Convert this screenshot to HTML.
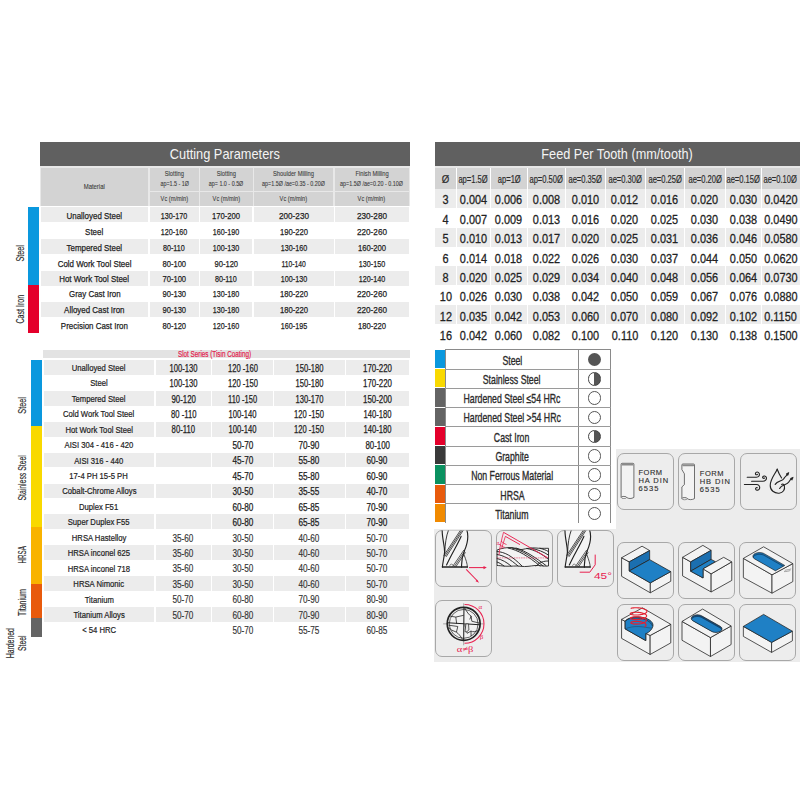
<!DOCTYPE html>
<html><head><meta charset="utf-8"><style>
html,body{margin:0;padding:0;background:#fff;width:800px;height:800px;overflow:hidden;}
body{position:relative;font-family:"Liberation Sans",sans-serif;color:#2b2b2b;}
.a{position:absolute;}
.c{display:flex;align-items:center;justify-content:center;white-space:nowrap;line-height:1;}
.c span{display:inline-block;transform-origin:50% 50%;}
.v{display:flex;align-items:center;justify-content:center;white-space:nowrap;transform:rotate(-90deg);color:#2b2b2b;text-align:center;line-height:1;}
.v span{display:inline-block;}
.ft{font-size:7.5px;line-height:8px;color:#2e2e2e;white-space:nowrap;transform-origin:0 0;-webkit-text-stroke:0.12px #2e2e2e;}
</style></head><body>
<div class="a" style="left:40px;top:142px;width:370px;height:24px;background:#606060;"></div>
<div class="a c" style="left:40px;top:142px;width:370px;height:24px;font-size:14.6px;color:#f4f4f4;font-weight:normal;"><span style="transform:translateY(-0.5px) scaleX(0.875)">Cutting Parameters</span></div>
<div class="a" style="left:40px;top:166px;width:370px;height:40px;background:#e8e8e8;"></div>
<div class="a" style="left:41px;top:168px;width:107px;height:38px;background:#d3d3d3;"></div>
<div class="a" style="left:149.8px;top:168px;width:49.0px;height:22.5px;background:#d3d3d3;"></div>
<div class="a" style="left:149.8px;top:192px;width:49.0px;height:14px;background:#d3d3d3;"></div>
<div class="a" style="left:200.2px;top:168px;width:52.60000000000002px;height:22.5px;background:#d3d3d3;"></div>
<div class="a" style="left:200.2px;top:192px;width:52.60000000000002px;height:14px;background:#d3d3d3;"></div>
<div class="a" style="left:254.2px;top:168px;width:79.0px;height:22.5px;background:#d3d3d3;"></div>
<div class="a" style="left:254.2px;top:192px;width:79.0px;height:14px;background:#d3d3d3;"></div>
<div class="a" style="left:334.6px;top:168px;width:74.39999999999998px;height:22.5px;background:#d3d3d3;"></div>
<div class="a" style="left:334.6px;top:192px;width:74.39999999999998px;height:14px;background:#d3d3d3;"></div>
<div class="a c" style="left:41px;top:168px;width:107px;height:38px;font-size:8px;color:#3a3a3a;font-weight:normal;-webkit-text-stroke:0.1px #3a3a3a;"><span style="transform:translateY(0px) scaleX(0.74)">Material</span></div>
<div class="a c" style="left:149.8px;top:169.5px;width:49.0px;height:9px;font-size:8px;color:#3a3a3a;font-weight:normal;-webkit-text-stroke:0.1px #3a3a3a;"><span style="transform:translateY(0px) scaleX(0.72)">Slotting</span></div>
<div class="a c" style="left:149.8px;top:179.3px;width:49.0px;height:9px;font-size:7.8px;color:#3a3a3a;font-weight:normal;-webkit-text-stroke:0.1px #3a3a3a;"><span style="transform:translateY(0px) scaleX(0.69)">ap=1.5 - 1Ø</span></div>
<div class="a c" style="left:149.8px;top:192px;width:49.0px;height:14px;font-size:8px;color:#3a3a3a;font-weight:normal;-webkit-text-stroke:0.1px #3a3a3a;"><span style="transform:translateY(0px) scaleX(0.71)">Vc (m/min)</span></div>
<div class="a c" style="left:200.2px;top:169.5px;width:52.60000000000002px;height:9px;font-size:8px;color:#3a3a3a;font-weight:normal;-webkit-text-stroke:0.1px #3a3a3a;"><span style="transform:translateY(0px) scaleX(0.72)">Slotting</span></div>
<div class="a c" style="left:200.2px;top:179.3px;width:52.60000000000002px;height:9px;font-size:7.8px;color:#3a3a3a;font-weight:normal;-webkit-text-stroke:0.1px #3a3a3a;"><span style="transform:translateY(0px) scaleX(0.69)">ap= 1.0 - 0.5Ø</span></div>
<div class="a c" style="left:200.2px;top:192px;width:52.60000000000002px;height:14px;font-size:8px;color:#3a3a3a;font-weight:normal;-webkit-text-stroke:0.1px #3a3a3a;"><span style="transform:translateY(0px) scaleX(0.71)">Vc (m/min)</span></div>
<div class="a c" style="left:254.2px;top:169.5px;width:79.0px;height:9px;font-size:8px;color:#3a3a3a;font-weight:normal;-webkit-text-stroke:0.1px #3a3a3a;"><span style="transform:translateY(0px) scaleX(0.72)">Shoulder Milling</span></div>
<div class="a c" style="left:254.2px;top:179.3px;width:79.0px;height:9px;font-size:7.8px;color:#3a3a3a;font-weight:normal;-webkit-text-stroke:0.1px #3a3a3a;"><span style="transform:translateY(0px) scaleX(0.69)">ap=1.5Ø /ae=0.35 - 0.20Ø</span></div>
<div class="a c" style="left:254.2px;top:192px;width:79.0px;height:14px;font-size:8px;color:#3a3a3a;font-weight:normal;-webkit-text-stroke:0.1px #3a3a3a;"><span style="transform:translateY(0px) scaleX(0.71)">Vc (m/min)</span></div>
<div class="a c" style="left:334.6px;top:169.5px;width:74.39999999999998px;height:9px;font-size:8px;color:#3a3a3a;font-weight:normal;-webkit-text-stroke:0.1px #3a3a3a;"><span style="transform:translateY(0px) scaleX(0.72)">Finish Milling</span></div>
<div class="a c" style="left:334.6px;top:179.3px;width:74.39999999999998px;height:9px;font-size:7.8px;color:#3a3a3a;font-weight:normal;-webkit-text-stroke:0.1px #3a3a3a;"><span style="transform:translateY(0px) scaleX(0.69)">ap=1.5Ø /ae=0.20 - 0.10Ø</span></div>
<div class="a c" style="left:334.6px;top:192px;width:74.39999999999998px;height:14px;font-size:8px;color:#3a3a3a;font-weight:normal;-webkit-text-stroke:0.1px #3a3a3a;"><span style="transform:translateY(0px) scaleX(0.71)">Vc (m/min)</span></div>
<div class="a" style="left:41px;top:207.3px;width:107px;height:15.05px;background:#ececec;"></div>
<div class="a" style="left:149.5px;top:207.3px;width:49.099999999999994px;height:15.05px;background:#ececec;"></div>
<div class="a" style="left:199.8px;top:207.3px;width:52.69999999999999px;height:15.05px;background:#ececec;"></div>
<div class="a" style="left:253.5px;top:207.3px;width:80.0px;height:15.05px;background:#ececec;"></div>
<div class="a" style="left:334.5px;top:207.3px;width:74.5px;height:15.05px;background:#ececec;"></div>
<div class="a c" style="left:41px;top:207.3px;width:107px;height:15.8px;font-size:9.8px;color:#222;font-weight:normal;-webkit-text-stroke:0.25px #222;"><span style="transform:translateY(0.9px) scaleX(0.81)">Unalloyed Steel</span></div>
<div class="a c" style="left:149.5px;top:207.3px;width:49.099999999999994px;height:15.8px;font-size:9.8px;color:#222;font-weight:normal;-webkit-text-stroke:0.25px #222;"><span style="transform:translateY(0.9px) scaleX(0.731339587144204)">130-170</span></div>
<div class="a c" style="left:199.8px;top:207.3px;width:52.69999999999999px;height:15.8px;font-size:9.8px;color:#222;font-weight:normal;-webkit-text-stroke:0.25px #222;"><span style="transform:translateY(0.9px) scaleX(0.7827836265440814)">170-200</span></div>
<div class="a c" style="left:253.5px;top:207.3px;width:80.0px;height:15.8px;font-size:9.8px;color:#222;font-weight:normal;-webkit-text-stroke:0.25px #222;"><span style="transform:translateY(0.9px) scaleX(0.8342276659439589)">200-230</span></div>
<div class="a c" style="left:334.5px;top:207.3px;width:74.5px;height:15.8px;font-size:9.8px;color:#222;font-weight:normal;-webkit-text-stroke:0.25px #222;"><span style="transform:translateY(0.9px) scaleX(0.8342276659439589)">230-280</span></div>
<div class="a c" style="left:41px;top:223.10000000000002px;width:107px;height:15.8px;font-size:9.8px;color:#222;font-weight:normal;-webkit-text-stroke:0.25px #222;"><span style="transform:translateY(0.77px) scaleX(0.81)">Steel</span></div>
<div class="a c" style="left:149.5px;top:223.10000000000002px;width:49.099999999999994px;height:15.8px;font-size:9.8px;color:#222;font-weight:normal;-webkit-text-stroke:0.25px #222;"><span style="transform:translateY(0.77px) scaleX(0.731339587144204)">120-160</span></div>
<div class="a c" style="left:199.8px;top:223.10000000000002px;width:52.69999999999999px;height:15.8px;font-size:9.8px;color:#222;font-weight:normal;-webkit-text-stroke:0.25px #222;"><span style="transform:translateY(0.77px) scaleX(0.731339587144204)">160-190</span></div>
<div class="a c" style="left:253.5px;top:223.10000000000002px;width:80.0px;height:15.8px;font-size:9.8px;color:#222;font-weight:normal;-webkit-text-stroke:0.25px #222;"><span style="transform:translateY(0.77px) scaleX(0.7827836265440814)">190-220</span></div>
<div class="a c" style="left:334.5px;top:223.10000000000002px;width:74.5px;height:15.8px;font-size:9.8px;color:#222;font-weight:normal;-webkit-text-stroke:0.25px #222;"><span style="transform:translateY(0.77px) scaleX(0.8342276659439589)">220-260</span></div>
<div class="a" style="left:41px;top:238.9px;width:107px;height:15.05px;background:#ececec;"></div>
<div class="a" style="left:149.5px;top:238.9px;width:49.099999999999994px;height:15.05px;background:#ececec;"></div>
<div class="a" style="left:199.8px;top:238.9px;width:52.69999999999999px;height:15.05px;background:#ececec;"></div>
<div class="a" style="left:253.5px;top:238.9px;width:80.0px;height:15.05px;background:#ececec;"></div>
<div class="a" style="left:334.5px;top:238.9px;width:74.5px;height:15.05px;background:#ececec;"></div>
<div class="a c" style="left:41px;top:238.9px;width:107px;height:15.8px;font-size:9.8px;color:#222;font-weight:normal;-webkit-text-stroke:0.25px #222;"><span style="transform:translateY(0.64px) scaleX(0.81)">Tempered Steel</span></div>
<div class="a c" style="left:149.5px;top:238.9px;width:49.099999999999994px;height:15.8px;font-size:9.8px;color:#222;font-weight:normal;-webkit-text-stroke:0.25px #222;"><span style="transform:translateY(0.64px) scaleX(0.7319281627616858)">80-110</span></div>
<div class="a c" style="left:199.8px;top:238.9px;width:52.69999999999999px;height:15.8px;font-size:9.8px;color:#222;font-weight:normal;-webkit-text-stroke:0.25px #222;"><span style="transform:translateY(0.64px) scaleX(0.731339587144204)">100-130</span></div>
<div class="a c" style="left:253.5px;top:238.9px;width:80.0px;height:15.8px;font-size:9.8px;color:#222;font-weight:normal;-webkit-text-stroke:0.25px #222;"><span style="transform:translateY(0.64px) scaleX(0.731339587144204)">130-160</span></div>
<div class="a c" style="left:334.5px;top:238.9px;width:74.5px;height:15.8px;font-size:9.8px;color:#222;font-weight:normal;-webkit-text-stroke:0.25px #222;"><span style="transform:translateY(0.64px) scaleX(0.7827836265440814)">160-200</span></div>
<div class="a c" style="left:41px;top:254.70000000000002px;width:107px;height:15.8px;font-size:9.8px;color:#222;font-weight:normal;-webkit-text-stroke:0.25px #222;"><span style="transform:translateY(0.51px) scaleX(0.81)">Cold Work Tool Steel</span></div>
<div class="a c" style="left:149.5px;top:254.70000000000002px;width:49.099999999999994px;height:15.8px;font-size:9.8px;color:#222;font-weight:normal;-webkit-text-stroke:0.25px #222;"><span style="transform:translateY(0.51px) scaleX(0.775112815376075)">80-100</span></div>
<div class="a c" style="left:199.8px;top:254.70000000000002px;width:52.69999999999999px;height:15.8px;font-size:9.8px;color:#222;font-weight:normal;-webkit-text-stroke:0.25px #222;"><span style="transform:translateY(0.51px) scaleX(0.775112815376075)">90-120</span></div>
<div class="a c" style="left:253.5px;top:254.70000000000002px;width:80.0px;height:15.8px;font-size:9.8px;color:#222;font-weight:normal;-webkit-text-stroke:0.25px #222;"><span style="transform:translateY(0.51px) scaleX(0.6939307665699916)">110-140</span></div>
<div class="a c" style="left:334.5px;top:254.70000000000002px;width:74.5px;height:15.8px;font-size:9.8px;color:#222;font-weight:normal;-webkit-text-stroke:0.25px #222;"><span style="transform:translateY(0.51px) scaleX(0.731339587144204)">130-150</span></div>
<div class="a" style="left:41px;top:270.5px;width:107px;height:15.05px;background:#ececec;"></div>
<div class="a" style="left:149.5px;top:270.5px;width:49.099999999999994px;height:15.05px;background:#ececec;"></div>
<div class="a" style="left:199.8px;top:270.5px;width:52.69999999999999px;height:15.05px;background:#ececec;"></div>
<div class="a" style="left:253.5px;top:270.5px;width:80.0px;height:15.05px;background:#ececec;"></div>
<div class="a" style="left:334.5px;top:270.5px;width:74.5px;height:15.05px;background:#ececec;"></div>
<div class="a c" style="left:41px;top:270.5px;width:107px;height:15.8px;font-size:9.8px;color:#222;font-weight:normal;-webkit-text-stroke:0.25px #222;"><span style="transform:translateY(0.38px) scaleX(0.81)">Hot Work Tool Steel</span></div>
<div class="a c" style="left:149.5px;top:270.5px;width:49.099999999999994px;height:15.8px;font-size:9.8px;color:#222;font-weight:normal;-webkit-text-stroke:0.25px #222;"><span style="transform:translateY(0.38px) scaleX(0.775112815376075)">70-100</span></div>
<div class="a c" style="left:199.8px;top:270.5px;width:52.69999999999999px;height:15.8px;font-size:9.8px;color:#222;font-weight:normal;-webkit-text-stroke:0.25px #222;"><span style="transform:translateY(0.38px) scaleX(0.7319281627616858)">80-110</span></div>
<div class="a c" style="left:253.5px;top:270.5px;width:80.0px;height:15.8px;font-size:9.8px;color:#222;font-weight:normal;-webkit-text-stroke:0.25px #222;"><span style="transform:translateY(0.38px) scaleX(0.731339587144204)">100-130</span></div>
<div class="a c" style="left:334.5px;top:270.5px;width:74.5px;height:15.8px;font-size:9.8px;color:#222;font-weight:normal;-webkit-text-stroke:0.25px #222;"><span style="transform:translateY(0.38px) scaleX(0.731339587144204)">120-140</span></div>
<div class="a c" style="left:41px;top:286.3px;width:107px;height:15.8px;font-size:9.8px;color:#222;font-weight:normal;-webkit-text-stroke:0.25px #222;"><span style="transform:translateY(0.25px) scaleX(0.81)">Gray Cast Iron</span></div>
<div class="a c" style="left:149.5px;top:286.3px;width:49.099999999999994px;height:15.8px;font-size:9.8px;color:#222;font-weight:normal;-webkit-text-stroke:0.25px #222;"><span style="transform:translateY(0.25px) scaleX(0.775112815376075)">90-130</span></div>
<div class="a c" style="left:199.8px;top:286.3px;width:52.69999999999999px;height:15.8px;font-size:9.8px;color:#222;font-weight:normal;-webkit-text-stroke:0.25px #222;"><span style="transform:translateY(0.25px) scaleX(0.731339587144204)">130-180</span></div>
<div class="a c" style="left:253.5px;top:286.3px;width:80.0px;height:15.8px;font-size:9.8px;color:#222;font-weight:normal;-webkit-text-stroke:0.25px #222;"><span style="transform:translateY(0.25px) scaleX(0.7827836265440814)">180-220</span></div>
<div class="a c" style="left:334.5px;top:286.3px;width:74.5px;height:15.8px;font-size:9.8px;color:#222;font-weight:normal;-webkit-text-stroke:0.25px #222;"><span style="transform:translateY(0.25px) scaleX(0.8342276659439589)">220-260</span></div>
<div class="a" style="left:41px;top:302.1px;width:107px;height:15.05px;background:#ececec;"></div>
<div class="a" style="left:149.5px;top:302.1px;width:49.099999999999994px;height:15.05px;background:#ececec;"></div>
<div class="a" style="left:199.8px;top:302.1px;width:52.69999999999999px;height:15.05px;background:#ececec;"></div>
<div class="a" style="left:253.5px;top:302.1px;width:80.0px;height:15.05px;background:#ececec;"></div>
<div class="a" style="left:334.5px;top:302.1px;width:74.5px;height:15.05px;background:#ececec;"></div>
<div class="a c" style="left:41px;top:302.1px;width:107px;height:15.8px;font-size:9.8px;color:#222;font-weight:normal;-webkit-text-stroke:0.25px #222;"><span style="transform:translateY(0.12px) scaleX(0.81)">Alloyed Cast Iron</span></div>
<div class="a c" style="left:149.5px;top:302.1px;width:49.099999999999994px;height:15.8px;font-size:9.8px;color:#222;font-weight:normal;-webkit-text-stroke:0.25px #222;"><span style="transform:translateY(0.12px) scaleX(0.775112815376075)">90-130</span></div>
<div class="a c" style="left:199.8px;top:302.1px;width:52.69999999999999px;height:15.8px;font-size:9.8px;color:#222;font-weight:normal;-webkit-text-stroke:0.25px #222;"><span style="transform:translateY(0.12px) scaleX(0.731339587144204)">130-180</span></div>
<div class="a c" style="left:253.5px;top:302.1px;width:80.0px;height:15.8px;font-size:9.8px;color:#222;font-weight:normal;-webkit-text-stroke:0.25px #222;"><span style="transform:translateY(0.12px) scaleX(0.7827836265440814)">180-220</span></div>
<div class="a c" style="left:334.5px;top:302.1px;width:74.5px;height:15.8px;font-size:9.8px;color:#222;font-weight:normal;-webkit-text-stroke:0.25px #222;"><span style="transform:translateY(0.12px) scaleX(0.8342276659439589)">220-260</span></div>
<div class="a c" style="left:41px;top:317.90000000000003px;width:107px;height:15.8px;font-size:9.8px;color:#222;font-weight:normal;-webkit-text-stroke:0.25px #222;"><span style="transform:translateY(-0.010000000000000009px) scaleX(0.81)">Precision Cast Iron</span></div>
<div class="a c" style="left:149.5px;top:317.90000000000003px;width:49.099999999999994px;height:15.8px;font-size:9.8px;color:#222;font-weight:normal;-webkit-text-stroke:0.25px #222;"><span style="transform:translateY(-0.010000000000000009px) scaleX(0.775112815376075)">80-120</span></div>
<div class="a c" style="left:199.8px;top:317.90000000000003px;width:52.69999999999999px;height:15.8px;font-size:9.8px;color:#222;font-weight:normal;-webkit-text-stroke:0.25px #222;"><span style="transform:translateY(-0.010000000000000009px) scaleX(0.731339587144204)">120-160</span></div>
<div class="a c" style="left:253.5px;top:317.90000000000003px;width:80.0px;height:15.8px;font-size:9.8px;color:#222;font-weight:normal;-webkit-text-stroke:0.25px #222;"><span style="transform:translateY(-0.010000000000000009px) scaleX(0.731339587144204)">160-195</span></div>
<div class="a c" style="left:334.5px;top:317.90000000000003px;width:74.5px;height:15.8px;font-size:9.8px;color:#222;font-weight:normal;-webkit-text-stroke:0.25px #222;"><span style="transform:translateY(-0.010000000000000009px) scaleX(0.7827836265440814)">180-220</span></div>
<div class="a" style="left:28px;top:207px;width:11px;height:78px;background:#0a98de;"></div>
<div class="a" style="left:28px;top:285px;width:11px;height:48px;background:#e4002b;"></div>
<div class="a v" style="left:-9.3px;top:246.56px;width:60px;height:12.48px;font-size:10.4px;-webkit-text-stroke:0.15px #2b2b2b;"><span style="transform:scaleX(0.695)">Steel</span></div>
<div class="a v" style="left:-9.3px;top:303.36px;width:60px;height:12.48px;font-size:10.4px;-webkit-text-stroke:0.15px #2b2b2b;"><span style="transform:scaleX(0.685)">Cast Iron</span></div>
<div class="a" style="left:42.5px;top:350px;width:367px;height:8.2px;background:#e3e3e3;"></div>
<div class="a" style="left:178px;top:348.8px;font-size:8.3px;line-height:10px;color:#e2204c;white-space:nowrap;transform:scaleX(0.76);transform-origin:0 0;-webkit-text-stroke:0.2px #e2204c">Slot Series (Tisin Coating)</div>
<div class="a" style="left:44px;top:360.0px;width:110px;height:14.84px;background:#ececec;"></div>
<div class="a" style="left:155.5px;top:360.0px;width:55.5px;height:14.84px;background:#ececec;"></div>
<div class="a" style="left:212px;top:360.0px;width:61px;height:14.84px;background:#ececec;"></div>
<div class="a" style="left:274px;top:360.0px;width:70.5px;height:14.84px;background:#ececec;"></div>
<div class="a" style="left:345.5px;top:360.0px;width:63.5px;height:14.84px;background:#ececec;"></div>
<div class="a c" style="left:44px;top:360.0px;width:110px;height:15.44px;font-size:9.6px;color:#222;font-weight:normal;-webkit-text-stroke:0.22px #222;"><span style="transform:translateY(0.0px) scaleX(0.8)">Unalloyed Steel</span></div>
<div class="a c" style="left:155.5px;top:360.0px;width:55.5px;height:15.44px;font-size:10.1px;color:#222;font-weight:normal;-webkit-text-stroke:0.25px #222;"><span style="transform:translateY(0.5px) scaleX(0.7554853846040341)">100-130</span></div>
<div class="a c" style="left:212px;top:360.0px;width:61px;height:15.44px;font-size:10.1px;color:#222;font-weight:normal;-webkit-text-stroke:0.25px #222;"><span style="transform:translateY(0.5px) scaleX(0.7524799505244433)">120 -160</span></div>
<div class="a c" style="left:274px;top:360.0px;width:70.5px;height:15.44px;font-size:10.1px;color:#222;font-weight:normal;-webkit-text-stroke:0.25px #222;"><span style="transform:translateY(0.5px) scaleX(0.7554853846040341)">150-180</span></div>
<div class="a c" style="left:345.5px;top:360.0px;width:63.5px;height:15.44px;font-size:10.1px;color:#222;font-weight:normal;-webkit-text-stroke:0.25px #222;"><span style="transform:translateY(0.5px) scaleX(0.7824670054827496)">170-220</span></div>
<div class="a c" style="left:44px;top:375.44px;width:110px;height:15.44px;font-size:9.6px;color:#222;font-weight:normal;-webkit-text-stroke:0.22px #222;"><span style="transform:translateY(0.0px) scaleX(0.8)">Steel</span></div>
<div class="a c" style="left:155.5px;top:375.44px;width:55.5px;height:15.44px;font-size:10.1px;color:#222;font-weight:normal;-webkit-text-stroke:0.25px #222;"><span style="transform:translateY(0.5px) scaleX(0.7554853846040341)">100-130</span></div>
<div class="a c" style="left:212px;top:375.44px;width:61px;height:15.44px;font-size:10.1px;color:#222;font-weight:normal;-webkit-text-stroke:0.25px #222;"><span style="transform:translateY(0.5px) scaleX(0.7524799505244433)">120 -150</span></div>
<div class="a c" style="left:274px;top:375.44px;width:70.5px;height:15.44px;font-size:10.1px;color:#222;font-weight:normal;-webkit-text-stroke:0.25px #222;"><span style="transform:translateY(0.5px) scaleX(0.7554853846040341)">150-180</span></div>
<div class="a c" style="left:345.5px;top:375.44px;width:63.5px;height:15.44px;font-size:10.1px;color:#222;font-weight:normal;-webkit-text-stroke:0.25px #222;"><span style="transform:translateY(0.5px) scaleX(0.7824670054827496)">170-220</span></div>
<div class="a" style="left:44px;top:390.88px;width:110px;height:14.84px;background:#ececec;"></div>
<div class="a" style="left:155.5px;top:390.88px;width:55.5px;height:14.84px;background:#ececec;"></div>
<div class="a" style="left:212px;top:390.88px;width:61px;height:14.84px;background:#ececec;"></div>
<div class="a" style="left:274px;top:390.88px;width:70.5px;height:14.84px;background:#ececec;"></div>
<div class="a" style="left:345.5px;top:390.88px;width:63.5px;height:14.84px;background:#ececec;"></div>
<div class="a c" style="left:44px;top:390.88px;width:110px;height:15.44px;font-size:9.6px;color:#222;font-weight:normal;-webkit-text-stroke:0.22px #222;"><span style="transform:translateY(0.0px) scaleX(0.8)">Tempered Steel</span></div>
<div class="a c" style="left:155.5px;top:390.88px;width:55.5px;height:15.44px;font-size:10.1px;color:#222;font-weight:normal;-webkit-text-stroke:0.25px #222;"><span style="transform:translateY(0.5px) scaleX(0.7791203691281504)">90-120</span></div>
<div class="a c" style="left:212px;top:390.88px;width:61px;height:15.44px;font-size:10.1px;color:#222;font-weight:normal;-webkit-text-stroke:0.25px #222;"><span style="transform:translateY(0.5px) scaleX(0.7413360345232523)">110 -150</span></div>
<div class="a c" style="left:274px;top:390.88px;width:70.5px;height:15.44px;font-size:10.1px;color:#222;font-weight:normal;-webkit-text-stroke:0.25px #222;"><span style="transform:translateY(0.5px) scaleX(0.7554853846040341)">130-170</span></div>
<div class="a c" style="left:345.5px;top:390.88px;width:63.5px;height:15.44px;font-size:10.1px;color:#222;font-weight:normal;-webkit-text-stroke:0.25px #222;"><span style="transform:translateY(0.5px) scaleX(0.7824670054827496)">150-200</span></div>
<div class="a c" style="left:44px;top:406.32px;width:110px;height:15.44px;font-size:9.6px;color:#222;font-weight:normal;-webkit-text-stroke:0.22px #222;"><span style="transform:translateY(0.0px) scaleX(0.8)">Cold Work Tool Steel</span></div>
<div class="a c" style="left:155.5px;top:406.32px;width:55.5px;height:15.44px;font-size:10.1px;color:#222;font-weight:normal;-webkit-text-stroke:0.25px #222;"><span style="transform:translateY(0.5px) scaleX(0.7611482331520165)">80 -110</span></div>
<div class="a c" style="left:212px;top:406.32px;width:61px;height:15.44px;font-size:10.1px;color:#222;font-weight:normal;-webkit-text-stroke:0.25px #222;"><span style="transform:translateY(0.5px) scaleX(0.7554853846040341)">100-140</span></div>
<div class="a c" style="left:274px;top:406.32px;width:70.5px;height:15.44px;font-size:10.1px;color:#222;font-weight:normal;-webkit-text-stroke:0.25px #222;"><span style="transform:translateY(0.5px) scaleX(0.7524799505244433)">120 -150</span></div>
<div class="a c" style="left:345.5px;top:406.32px;width:63.5px;height:15.44px;font-size:10.1px;color:#222;font-weight:normal;-webkit-text-stroke:0.25px #222;"><span style="transform:translateY(0.5px) scaleX(0.7554853846040341)">140-180</span></div>
<div class="a" style="left:44px;top:421.76px;width:110px;height:14.84px;background:#ececec;"></div>
<div class="a" style="left:155.5px;top:421.76px;width:55.5px;height:14.84px;background:#ececec;"></div>
<div class="a" style="left:212px;top:421.76px;width:61px;height:14.84px;background:#ececec;"></div>
<div class="a" style="left:274px;top:421.76px;width:70.5px;height:14.84px;background:#ececec;"></div>
<div class="a" style="left:345.5px;top:421.76px;width:63.5px;height:14.84px;background:#ececec;"></div>
<div class="a c" style="left:44px;top:421.76px;width:110px;height:15.44px;font-size:9.6px;color:#222;font-weight:normal;-webkit-text-stroke:0.22px #222;"><span style="transform:translateY(0.0px) scaleX(0.8)">Hot Work Tool Steel</span></div>
<div class="a c" style="left:155.5px;top:421.76px;width:55.5px;height:15.44px;font-size:10.1px;color:#222;font-weight:normal;-webkit-text-stroke:0.25px #222;"><span style="transform:translateY(0.5px) scaleX(0.7655693336543565)">80-110</span></div>
<div class="a c" style="left:212px;top:421.76px;width:61px;height:15.44px;font-size:10.1px;color:#222;font-weight:normal;-webkit-text-stroke:0.25px #222;"><span style="transform:translateY(0.5px) scaleX(0.7554853846040341)">100-140</span></div>
<div class="a c" style="left:274px;top:421.76px;width:70.5px;height:15.44px;font-size:10.1px;color:#222;font-weight:normal;-webkit-text-stroke:0.25px #222;"><span style="transform:translateY(0.5px) scaleX(0.7524799505244433)">120 -150</span></div>
<div class="a c" style="left:345.5px;top:421.76px;width:63.5px;height:15.44px;font-size:10.1px;color:#222;font-weight:normal;-webkit-text-stroke:0.25px #222;"><span style="transform:translateY(0.5px) scaleX(0.7554853846040341)">140-180</span></div>
<div class="a c" style="left:44px;top:437.2px;width:110px;height:15.44px;font-size:9.6px;color:#222;font-weight:normal;-webkit-text-stroke:0.22px #222;"><span style="transform:translateY(0.0px) scaleX(0.8)">AISI 304 - 416 - 420</span></div>
<div class="a c" style="left:212px;top:437.2px;width:61px;height:15.44px;font-size:10.1px;color:#222;font-weight:normal;-webkit-text-stroke:0.25px #222;"><span style="transform:translateY(0.5px) scaleX(0.8130341964360792)">50-70</span></div>
<div class="a c" style="left:274px;top:437.2px;width:70.5px;height:15.44px;font-size:10.1px;color:#222;font-weight:normal;-webkit-text-stroke:0.25px #222;"><span style="transform:translateY(0.5px) scaleX(0.8130341964360792)">70-90</span></div>
<div class="a c" style="left:345.5px;top:437.2px;width:63.5px;height:15.44px;font-size:10.1px;color:#222;font-weight:normal;-webkit-text-stroke:0.25px #222;"><span style="transform:translateY(0.5px) scaleX(0.7791203691281504)">80-100</span></div>
<div class="a" style="left:44px;top:452.64px;width:110px;height:14.84px;background:#ececec;"></div>
<div class="a" style="left:155.5px;top:452.64px;width:55.5px;height:14.84px;background:#ececec;"></div>
<div class="a" style="left:212px;top:452.64px;width:61px;height:14.84px;background:#ececec;"></div>
<div class="a" style="left:274px;top:452.64px;width:70.5px;height:14.84px;background:#ececec;"></div>
<div class="a" style="left:345.5px;top:452.64px;width:63.5px;height:14.84px;background:#ececec;"></div>
<div class="a c" style="left:44px;top:452.64px;width:110px;height:15.44px;font-size:9.6px;color:#222;font-weight:normal;-webkit-text-stroke:0.22px #222;"><span style="transform:translateY(0.0px) scaleX(0.8)">AISI 316 - 440</span></div>
<div class="a c" style="left:212px;top:452.64px;width:61px;height:15.44px;font-size:10.1px;color:#222;font-weight:normal;-webkit-text-stroke:0.25px #222;"><span style="transform:translateY(0.5px) scaleX(0.8130341964360792)">45-70</span></div>
<div class="a c" style="left:274px;top:452.64px;width:70.5px;height:15.44px;font-size:10.1px;color:#222;font-weight:normal;-webkit-text-stroke:0.25px #222;"><span style="transform:translateY(0.5px) scaleX(0.8130341964360792)">55-80</span></div>
<div class="a c" style="left:345.5px;top:452.64px;width:63.5px;height:15.44px;font-size:10.1px;color:#222;font-weight:normal;-webkit-text-stroke:0.25px #222;"><span style="transform:translateY(0.5px) scaleX(0.8130341964360792)">60-90</span></div>
<div class="a c" style="left:44px;top:468.08px;width:110px;height:15.44px;font-size:9.6px;color:#222;font-weight:normal;-webkit-text-stroke:0.22px #222;"><span style="transform:translateY(0.0px) scaleX(0.8)">17-4 PH 15-5 PH</span></div>
<div class="a c" style="left:212px;top:468.08px;width:61px;height:15.44px;font-size:10.1px;color:#222;font-weight:normal;-webkit-text-stroke:0.25px #222;"><span style="transform:translateY(0.5px) scaleX(0.8130341964360792)">45-70</span></div>
<div class="a c" style="left:274px;top:468.08px;width:70.5px;height:15.44px;font-size:10.1px;color:#222;font-weight:normal;-webkit-text-stroke:0.25px #222;"><span style="transform:translateY(0.5px) scaleX(0.8130341964360792)">55-80</span></div>
<div class="a c" style="left:345.5px;top:468.08px;width:63.5px;height:15.44px;font-size:10.1px;color:#222;font-weight:normal;-webkit-text-stroke:0.25px #222;"><span style="transform:translateY(0.5px) scaleX(0.8130341964360792)">60-90</span></div>
<div class="a" style="left:44px;top:483.52px;width:110px;height:14.84px;background:#ececec;"></div>
<div class="a" style="left:155.5px;top:483.52px;width:55.5px;height:14.84px;background:#ececec;"></div>
<div class="a" style="left:212px;top:483.52px;width:61px;height:14.84px;background:#ececec;"></div>
<div class="a" style="left:274px;top:483.52px;width:70.5px;height:14.84px;background:#ececec;"></div>
<div class="a" style="left:345.5px;top:483.52px;width:63.5px;height:14.84px;background:#ececec;"></div>
<div class="a c" style="left:44px;top:483.52px;width:110px;height:15.44px;font-size:9.6px;color:#222;font-weight:normal;-webkit-text-stroke:0.22px #222;"><span style="transform:translateY(0.0px) scaleX(0.8)">Cobalt-Chrome Alloys</span></div>
<div class="a c" style="left:212px;top:483.52px;width:61px;height:15.44px;font-size:10.1px;color:#222;font-weight:normal;-webkit-text-stroke:0.25px #222;"><span style="transform:translateY(0.5px) scaleX(0.8130341964360792)">30-50</span></div>
<div class="a c" style="left:274px;top:483.52px;width:70.5px;height:15.44px;font-size:10.1px;color:#222;font-weight:normal;-webkit-text-stroke:0.25px #222;"><span style="transform:translateY(0.5px) scaleX(0.8130341964360792)">35-55</span></div>
<div class="a c" style="left:345.5px;top:483.52px;width:63.5px;height:15.44px;font-size:10.1px;color:#222;font-weight:normal;-webkit-text-stroke:0.25px #222;"><span style="transform:translateY(0.5px) scaleX(0.8130341964360792)">40-70</span></div>
<div class="a c" style="left:44px;top:498.96000000000004px;width:110px;height:15.44px;font-size:9.6px;color:#222;font-weight:normal;-webkit-text-stroke:0.22px #222;"><span style="transform:translateY(0.0px) scaleX(0.8)">Duplex F51</span></div>
<div class="a c" style="left:212px;top:498.96000000000004px;width:61px;height:15.44px;font-size:10.1px;color:#222;font-weight:normal;-webkit-text-stroke:0.25px #222;"><span style="transform:translateY(0.5px) scaleX(0.8130341964360792)">60-80</span></div>
<div class="a c" style="left:274px;top:498.96000000000004px;width:70.5px;height:15.44px;font-size:10.1px;color:#222;font-weight:normal;-webkit-text-stroke:0.25px #222;"><span style="transform:translateY(0.5px) scaleX(0.8130341964360792)">65-85</span></div>
<div class="a c" style="left:345.5px;top:498.96000000000004px;width:63.5px;height:15.44px;font-size:10.1px;color:#222;font-weight:normal;-webkit-text-stroke:0.25px #222;"><span style="transform:translateY(0.5px) scaleX(0.8130341964360792)">70-90</span></div>
<div class="a" style="left:44px;top:514.4px;width:110px;height:14.84px;background:#ececec;"></div>
<div class="a" style="left:155.5px;top:514.4px;width:55.5px;height:14.84px;background:#ececec;"></div>
<div class="a" style="left:212px;top:514.4px;width:61px;height:14.84px;background:#ececec;"></div>
<div class="a" style="left:274px;top:514.4px;width:70.5px;height:14.84px;background:#ececec;"></div>
<div class="a" style="left:345.5px;top:514.4px;width:63.5px;height:14.84px;background:#ececec;"></div>
<div class="a c" style="left:44px;top:514.4px;width:110px;height:15.44px;font-size:9.6px;color:#222;font-weight:normal;-webkit-text-stroke:0.22px #222;"><span style="transform:translateY(0.0px) scaleX(0.8)">Super Duplex F55</span></div>
<div class="a c" style="left:212px;top:514.4px;width:61px;height:15.44px;font-size:10.1px;color:#222;font-weight:normal;-webkit-text-stroke:0.25px #222;"><span style="transform:translateY(0.5px) scaleX(0.8130341964360792)">60-80</span></div>
<div class="a c" style="left:274px;top:514.4px;width:70.5px;height:15.44px;font-size:10.1px;color:#222;font-weight:normal;-webkit-text-stroke:0.25px #222;"><span style="transform:translateY(0.5px) scaleX(0.8130341964360792)">65-85</span></div>
<div class="a c" style="left:345.5px;top:514.4px;width:63.5px;height:15.44px;font-size:10.1px;color:#222;font-weight:normal;-webkit-text-stroke:0.25px #222;"><span style="transform:translateY(0.5px) scaleX(0.8130341964360792)">70-90</span></div>
<div class="a c" style="left:44px;top:529.84px;width:110px;height:15.44px;font-size:9.6px;color:#222;font-weight:normal;-webkit-text-stroke:0.22px #222;"><span style="transform:translateY(0.0px) scaleX(0.8)">HRSA Hastelloy</span></div>
<div class="a c" style="left:155.5px;top:529.84px;width:55.5px;height:15.44px;font-size:10.1px;color:#333;font-weight:normal;-webkit-text-stroke:0.15px #333;"><span style="transform:translateY(0.5px) scaleX(0.8130341964360792)">35-60</span></div>
<div class="a c" style="left:212px;top:529.84px;width:61px;height:15.44px;font-size:10.1px;color:#333;font-weight:normal;-webkit-text-stroke:0.15px #333;"><span style="transform:translateY(0.5px) scaleX(0.8130341964360792)">30-50</span></div>
<div class="a c" style="left:274px;top:529.84px;width:70.5px;height:15.44px;font-size:10.1px;color:#333;font-weight:normal;-webkit-text-stroke:0.15px #333;"><span style="transform:translateY(0.5px) scaleX(0.8130341964360792)">40-60</span></div>
<div class="a c" style="left:345.5px;top:529.84px;width:63.5px;height:15.44px;font-size:10.1px;color:#333;font-weight:normal;-webkit-text-stroke:0.15px #333;"><span style="transform:translateY(0.5px) scaleX(0.8130341964360792)">50-70</span></div>
<div class="a" style="left:44px;top:545.28px;width:110px;height:14.84px;background:#ececec;"></div>
<div class="a" style="left:155.5px;top:545.28px;width:55.5px;height:14.84px;background:#ececec;"></div>
<div class="a" style="left:212px;top:545.28px;width:61px;height:14.84px;background:#ececec;"></div>
<div class="a" style="left:274px;top:545.28px;width:70.5px;height:14.84px;background:#ececec;"></div>
<div class="a" style="left:345.5px;top:545.28px;width:63.5px;height:14.84px;background:#ececec;"></div>
<div class="a c" style="left:44px;top:545.28px;width:110px;height:15.44px;font-size:9.6px;color:#222;font-weight:normal;-webkit-text-stroke:0.22px #222;"><span style="transform:translateY(0.0px) scaleX(0.8)">HRSA inconel 625</span></div>
<div class="a c" style="left:155.5px;top:545.28px;width:55.5px;height:15.44px;font-size:10.1px;color:#333;font-weight:normal;-webkit-text-stroke:0.15px #333;"><span style="transform:translateY(0.5px) scaleX(0.8130341964360792)">35-60</span></div>
<div class="a c" style="left:212px;top:545.28px;width:61px;height:15.44px;font-size:10.1px;color:#333;font-weight:normal;-webkit-text-stroke:0.15px #333;"><span style="transform:translateY(0.5px) scaleX(0.8130341964360792)">30-50</span></div>
<div class="a c" style="left:274px;top:545.28px;width:70.5px;height:15.44px;font-size:10.1px;color:#333;font-weight:normal;-webkit-text-stroke:0.15px #333;"><span style="transform:translateY(0.5px) scaleX(0.8130341964360792)">40-60</span></div>
<div class="a c" style="left:345.5px;top:545.28px;width:63.5px;height:15.44px;font-size:10.1px;color:#333;font-weight:normal;-webkit-text-stroke:0.15px #333;"><span style="transform:translateY(0.5px) scaleX(0.8130341964360792)">50-70</span></div>
<div class="a c" style="left:44px;top:560.72px;width:110px;height:15.44px;font-size:9.6px;color:#222;font-weight:normal;-webkit-text-stroke:0.22px #222;"><span style="transform:translateY(0.0px) scaleX(0.8)">HRSA inconel 718</span></div>
<div class="a c" style="left:155.5px;top:560.72px;width:55.5px;height:15.44px;font-size:10.1px;color:#333;font-weight:normal;-webkit-text-stroke:0.15px #333;"><span style="transform:translateY(0.5px) scaleX(0.8130341964360792)">35-60</span></div>
<div class="a c" style="left:212px;top:560.72px;width:61px;height:15.44px;font-size:10.1px;color:#333;font-weight:normal;-webkit-text-stroke:0.15px #333;"><span style="transform:translateY(0.5px) scaleX(0.8130341964360792)">30-50</span></div>
<div class="a c" style="left:274px;top:560.72px;width:70.5px;height:15.44px;font-size:10.1px;color:#333;font-weight:normal;-webkit-text-stroke:0.15px #333;"><span style="transform:translateY(0.5px) scaleX(0.8130341964360792)">40-60</span></div>
<div class="a c" style="left:345.5px;top:560.72px;width:63.5px;height:15.44px;font-size:10.1px;color:#333;font-weight:normal;-webkit-text-stroke:0.15px #333;"><span style="transform:translateY(0.5px) scaleX(0.8130341964360792)">50-70</span></div>
<div class="a" style="left:44px;top:576.16px;width:110px;height:14.84px;background:#ececec;"></div>
<div class="a" style="left:155.5px;top:576.16px;width:55.5px;height:14.84px;background:#ececec;"></div>
<div class="a" style="left:212px;top:576.16px;width:61px;height:14.84px;background:#ececec;"></div>
<div class="a" style="left:274px;top:576.16px;width:70.5px;height:14.84px;background:#ececec;"></div>
<div class="a" style="left:345.5px;top:576.16px;width:63.5px;height:14.84px;background:#ececec;"></div>
<div class="a c" style="left:44px;top:576.16px;width:110px;height:15.44px;font-size:9.6px;color:#222;font-weight:normal;-webkit-text-stroke:0.22px #222;"><span style="transform:translateY(0.0px) scaleX(0.8)">HRSA Nimonic</span></div>
<div class="a c" style="left:155.5px;top:576.16px;width:55.5px;height:15.44px;font-size:10.1px;color:#333;font-weight:normal;-webkit-text-stroke:0.15px #333;"><span style="transform:translateY(0.5px) scaleX(0.8130341964360792)">35-60</span></div>
<div class="a c" style="left:212px;top:576.16px;width:61px;height:15.44px;font-size:10.1px;color:#333;font-weight:normal;-webkit-text-stroke:0.15px #333;"><span style="transform:translateY(0.5px) scaleX(0.8130341964360792)">30-50</span></div>
<div class="a c" style="left:274px;top:576.16px;width:70.5px;height:15.44px;font-size:10.1px;color:#333;font-weight:normal;-webkit-text-stroke:0.15px #333;"><span style="transform:translateY(0.5px) scaleX(0.8130341964360792)">40-60</span></div>
<div class="a c" style="left:345.5px;top:576.16px;width:63.5px;height:15.44px;font-size:10.1px;color:#333;font-weight:normal;-webkit-text-stroke:0.15px #333;"><span style="transform:translateY(0.5px) scaleX(0.8130341964360792)">50-70</span></div>
<div class="a c" style="left:44px;top:591.6px;width:110px;height:15.44px;font-size:9.6px;color:#222;font-weight:normal;-webkit-text-stroke:0.22px #222;"><span style="transform:translateY(0.0px) scaleX(0.8)">Titanium</span></div>
<div class="a c" style="left:155.5px;top:591.6px;width:55.5px;height:15.44px;font-size:10.1px;color:#333;font-weight:normal;-webkit-text-stroke:0.15px #333;"><span style="transform:translateY(0.5px) scaleX(0.8130341964360792)">50-70</span></div>
<div class="a c" style="left:212px;top:591.6px;width:61px;height:15.44px;font-size:10.1px;color:#333;font-weight:normal;-webkit-text-stroke:0.15px #333;"><span style="transform:translateY(0.5px) scaleX(0.8130341964360792)">60-80</span></div>
<div class="a c" style="left:274px;top:591.6px;width:70.5px;height:15.44px;font-size:10.1px;color:#333;font-weight:normal;-webkit-text-stroke:0.15px #333;"><span style="transform:translateY(0.5px) scaleX(0.8130341964360792)">70-90</span></div>
<div class="a c" style="left:345.5px;top:591.6px;width:63.5px;height:15.44px;font-size:10.1px;color:#333;font-weight:normal;-webkit-text-stroke:0.15px #333;"><span style="transform:translateY(0.5px) scaleX(0.8130341964360792)">80-90</span></div>
<div class="a" style="left:44px;top:607.04px;width:110px;height:14.84px;background:#ececec;"></div>
<div class="a" style="left:155.5px;top:607.04px;width:55.5px;height:14.84px;background:#ececec;"></div>
<div class="a" style="left:212px;top:607.04px;width:61px;height:14.84px;background:#ececec;"></div>
<div class="a" style="left:274px;top:607.04px;width:70.5px;height:14.84px;background:#ececec;"></div>
<div class="a" style="left:345.5px;top:607.04px;width:63.5px;height:14.84px;background:#ececec;"></div>
<div class="a c" style="left:44px;top:607.04px;width:110px;height:15.44px;font-size:9.6px;color:#222;font-weight:normal;-webkit-text-stroke:0.22px #222;"><span style="transform:translateY(0.0px) scaleX(0.8)">Titanium Alloys</span></div>
<div class="a c" style="left:155.5px;top:607.04px;width:55.5px;height:15.44px;font-size:10.1px;color:#333;font-weight:normal;-webkit-text-stroke:0.15px #333;"><span style="transform:translateY(0.5px) scaleX(0.8130341964360792)">50-70</span></div>
<div class="a c" style="left:212px;top:607.04px;width:61px;height:15.44px;font-size:10.1px;color:#333;font-weight:normal;-webkit-text-stroke:0.15px #333;"><span style="transform:translateY(0.5px) scaleX(0.8130341964360792)">60-80</span></div>
<div class="a c" style="left:274px;top:607.04px;width:70.5px;height:15.44px;font-size:10.1px;color:#333;font-weight:normal;-webkit-text-stroke:0.15px #333;"><span style="transform:translateY(0.5px) scaleX(0.8130341964360792)">70-90</span></div>
<div class="a c" style="left:345.5px;top:607.04px;width:63.5px;height:15.44px;font-size:10.1px;color:#333;font-weight:normal;-webkit-text-stroke:0.15px #333;"><span style="transform:translateY(0.5px) scaleX(0.8130341964360792)">80-90</span></div>
<div class="a c" style="left:44px;top:622.48px;width:110px;height:15.44px;font-size:9.6px;color:#222;font-weight:normal;-webkit-text-stroke:0.22px #222;"><span style="transform:translateY(0.0px) scaleX(0.8)">< 54 HRC</span></div>
<div class="a c" style="left:212px;top:622.48px;width:61px;height:15.44px;font-size:10.1px;color:#333;font-weight:normal;-webkit-text-stroke:0.15px #333;"><span style="transform:translateY(0.5px) scaleX(0.8130341964360792)">50-70</span></div>
<div class="a c" style="left:274px;top:622.48px;width:70.5px;height:15.44px;font-size:10.1px;color:#333;font-weight:normal;-webkit-text-stroke:0.15px #333;"><span style="transform:translateY(0.5px) scaleX(0.8130341964360792)">55-75</span></div>
<div class="a c" style="left:345.5px;top:622.48px;width:63.5px;height:15.44px;font-size:10.1px;color:#333;font-weight:normal;-webkit-text-stroke:0.15px #333;"><span style="transform:translateY(0.5px) scaleX(0.8130341964360792)">60-85</span></div>
<div class="a" style="left:31px;top:359.5px;width:11px;height:66px;background:#0a98de;"></div>
<div class="a" style="left:31px;top:425.5px;width:11px;height:101.5px;background:#f9d900;"></div>
<div class="a" style="left:31px;top:527px;width:11px;height:57px;background:#f9b300;"></div>
<div class="a" style="left:31px;top:584px;width:11px;height:34px;background:#e85a0c;"></div>
<div class="a" style="left:31px;top:618px;width:11px;height:18.8px;background:#646464;"></div>
<div class="a v" style="left:-7.300000000000001px;top:398.76px;width:60px;height:12.48px;font-size:10.4px;-webkit-text-stroke:0.15px #2b2b2b;"><span style="transform:scaleX(0.7)">Steel</span></div>
<div class="a v" style="left:-6.699999999999999px;top:472.36px;width:60px;height:12.48px;font-size:10.4px;-webkit-text-stroke:0.15px #2b2b2b;"><span style="transform:scaleX(0.66)">Stainless Steel</span></div>
<div class="a v" style="left:-6.699999999999999px;top:548.56px;width:60px;height:12.48px;font-size:10.4px;-webkit-text-stroke:0.15px #2b2b2b;"><span style="transform:scaleX(0.6)">HRSA</span></div>
<div class="a v" style="left:-7.0px;top:596.26px;width:60px;height:12.48px;font-size:10.4px;-webkit-text-stroke:0.15px #2b2b2b;"><span style="transform:scaleX(0.68)">Titanium</span></div>
<div class="a v" style="left:-13.0px;top:631.25px;width:60px;height:24.0px;font-size:10.4px;line-height:12.0px;-webkit-text-stroke:0.15px #2b2b2b;"><span style="transform:scaleX(0.66)">Hardened<br>Steel</span></div>
<div class="a" style="left:435px;top:142px;width:365px;height:24px;background:#606060;"></div>
<div class="a c" style="left:435px;top:142px;width:365px;height:24px;font-size:14.6px;color:#f4f4f4;font-weight:normal;"><span style="transform:translateY(-0.5px) scaleX(0.87)">Feed Per Tooth (mm/tooth)</span></div>
<div class="a" style="left:435px;top:166px;width:365px;height:2px;background:#e6e6e6;"></div>
<div class="a" style="left:435px;top:168px;width:20.5px;height:21px;background:#d3d3d3;"></div>
<div class="a c" style="left:435px;top:168px;width:21px;height:21px;font-size:11.4px;color:#2b2b2b;font-weight:normal;-webkit-text-stroke:0.2px #2b2b2b;"><span style="transform:translateY(1.1px) scaleX(0.85)">Ø</span></div>
<div class="a" style="left:456.5px;top:168px;width:33.5px;height:21px;background:#d3d3d3;"></div>
<div class="a c" style="left:456px;top:168px;width:34.5px;height:21px;font-size:11.4px;color:#2b2b2b;font-weight:normal;-webkit-text-stroke:0.2px #2b2b2b;"><span style="transform:translateY(1.1px) scaleX(0.665)">ap=1.5Ø</span></div>
<div class="a" style="left:491.0px;top:168px;width:36.0px;height:21px;background:#d3d3d3;"></div>
<div class="a c" style="left:490.5px;top:168px;width:37.0px;height:21px;font-size:11.4px;color:#2b2b2b;font-weight:normal;-webkit-text-stroke:0.2px #2b2b2b;"><span style="transform:translateY(1.1px) scaleX(0.665)">ap=1Ø</span></div>
<div class="a" style="left:528.0px;top:168px;width:37.0px;height:21px;background:#d3d3d3;"></div>
<div class="a c" style="left:527.5px;top:168px;width:38.0px;height:21px;font-size:11.4px;color:#2b2b2b;font-weight:normal;-webkit-text-stroke:0.2px #2b2b2b;"><span style="transform:translateY(1.1px) scaleX(0.665)">ap=0.50Ø</span></div>
<div class="a" style="left:566.0px;top:168px;width:38.5px;height:21px;background:#d3d3d3;"></div>
<div class="a c" style="left:565.5px;top:168px;width:39.5px;height:21px;font-size:11.4px;color:#2b2b2b;font-weight:normal;-webkit-text-stroke:0.2px #2b2b2b;"><span style="transform:translateY(1.1px) scaleX(0.665)">ae=0.35Ø</span></div>
<div class="a" style="left:605.5px;top:168px;width:39px;height:21px;background:#d3d3d3;"></div>
<div class="a c" style="left:605px;top:168px;width:40px;height:21px;font-size:11.4px;color:#2b2b2b;font-weight:normal;-webkit-text-stroke:0.2px #2b2b2b;"><span style="transform:translateY(1.1px) scaleX(0.665)">ae=0.30Ø</span></div>
<div class="a" style="left:645.5px;top:168px;width:38.5px;height:21px;background:#d3d3d3;"></div>
<div class="a c" style="left:645px;top:168px;width:39.5px;height:21px;font-size:11.4px;color:#2b2b2b;font-weight:normal;-webkit-text-stroke:0.2px #2b2b2b;"><span style="transform:translateY(1.1px) scaleX(0.665)">ae=0.25Ø</span></div>
<div class="a" style="left:685.0px;top:168px;width:40.0px;height:21px;background:#d3d3d3;"></div>
<div class="a c" style="left:684.5px;top:168px;width:41.0px;height:21px;font-size:11.4px;color:#2b2b2b;font-weight:normal;-webkit-text-stroke:0.2px #2b2b2b;"><span style="transform:translateY(1.1px) scaleX(0.665)">ae=0.20Ø</span></div>
<div class="a" style="left:726.0px;top:168px;width:34.5px;height:21px;background:#d3d3d3;"></div>
<div class="a c" style="left:725.5px;top:168px;width:35.5px;height:21px;font-size:11.4px;color:#2b2b2b;font-weight:normal;-webkit-text-stroke:0.2px #2b2b2b;"><span style="transform:translateY(1.1px) scaleX(0.665)">ae=0.15Ø</span></div>
<div class="a" style="left:761.5px;top:168px;width:38px;height:21px;background:#d3d3d3;"></div>
<div class="a c" style="left:761px;top:168px;width:39px;height:21px;font-size:11.4px;color:#2b2b2b;font-weight:normal;-webkit-text-stroke:0.2px #2b2b2b;"><span style="transform:translateY(1.1px) scaleX(0.665)">ae=0.10Ø</span></div>
<div class="a" style="left:435px;top:189.0px;width:20.5px;height:18.85px;background:#ececec;"></div>
<div class="a" style="left:456.5px;top:189.0px;width:33.5px;height:18.85px;background:#ececec;"></div>
<div class="a" style="left:491.0px;top:189.0px;width:36.0px;height:18.85px;background:#ececec;"></div>
<div class="a" style="left:528.0px;top:189.0px;width:37.0px;height:18.85px;background:#ececec;"></div>
<div class="a" style="left:566.0px;top:189.0px;width:38.5px;height:18.85px;background:#ececec;"></div>
<div class="a" style="left:605.5px;top:189.0px;width:39px;height:18.85px;background:#ececec;"></div>
<div class="a" style="left:645.5px;top:189.0px;width:38.5px;height:18.85px;background:#ececec;"></div>
<div class="a" style="left:685.0px;top:189.0px;width:40.0px;height:18.85px;background:#ececec;"></div>
<div class="a" style="left:726.0px;top:189.0px;width:34.5px;height:18.85px;background:#ececec;"></div>
<div class="a" style="left:761.5px;top:189.0px;width:38px;height:18.85px;background:#ececec;"></div>
<div class="a c" style="left:435px;top:189.0px;width:21px;height:19.35px;font-size:12.4px;color:#222;font-weight:normal;-webkit-text-stroke:0.28px #222;"><span style="transform:translateY(2.0px) scaleX(0.88)">3</span></div>
<div class="a c" style="left:456px;top:189.0px;width:34.5px;height:19.35px;font-size:12.4px;color:#222;font-weight:normal;-webkit-text-stroke:0.28px #222;"><span style="transform:translateY(2.0px) scaleX(0.88)">0.004</span></div>
<div class="a c" style="left:490.5px;top:189.0px;width:37.0px;height:19.35px;font-size:12.4px;color:#222;font-weight:normal;-webkit-text-stroke:0.28px #222;"><span style="transform:translateY(2.0px) scaleX(0.88)">0.006</span></div>
<div class="a c" style="left:527.5px;top:189.0px;width:38.0px;height:19.35px;font-size:12.4px;color:#222;font-weight:normal;-webkit-text-stroke:0.28px #222;"><span style="transform:translateY(2.0px) scaleX(0.88)">0.008</span></div>
<div class="a c" style="left:565.5px;top:189.0px;width:39.5px;height:19.35px;font-size:12.4px;color:#222;font-weight:normal;-webkit-text-stroke:0.28px #222;"><span style="transform:translateY(2.0px) scaleX(0.88)">0.010</span></div>
<div class="a c" style="left:605px;top:189.0px;width:40px;height:19.35px;font-size:12.4px;color:#222;font-weight:normal;-webkit-text-stroke:0.28px #222;"><span style="transform:translateY(2.0px) scaleX(0.88)">0.012</span></div>
<div class="a c" style="left:645px;top:189.0px;width:39.5px;height:19.35px;font-size:12.4px;color:#222;font-weight:normal;-webkit-text-stroke:0.28px #222;"><span style="transform:translateY(2.0px) scaleX(0.88)">0.016</span></div>
<div class="a c" style="left:684.5px;top:189.0px;width:41.0px;height:19.35px;font-size:12.4px;color:#222;font-weight:normal;-webkit-text-stroke:0.28px #222;"><span style="transform:translateY(2.0px) scaleX(0.88)">0.020</span></div>
<div class="a c" style="left:725.5px;top:189.0px;width:35.5px;height:19.35px;font-size:12.4px;color:#222;font-weight:normal;-webkit-text-stroke:0.28px #222;"><span style="transform:translateY(2.0px) scaleX(0.88)">0.030</span></div>
<div class="a c" style="left:761px;top:189.0px;width:39px;height:19.35px;font-size:12.4px;color:#222;font-weight:normal;-webkit-text-stroke:0.28px #222;"><span style="transform:translateY(2.0px) scaleX(0.88)">0.0420</span></div>
<div class="a c" style="left:435px;top:208.35px;width:21px;height:19.35px;font-size:12.4px;color:#222;font-weight:normal;-webkit-text-stroke:0.28px #222;"><span style="transform:translateY(2.0px) scaleX(0.88)">4</span></div>
<div class="a c" style="left:456px;top:208.35px;width:34.5px;height:19.35px;font-size:12.4px;color:#222;font-weight:normal;-webkit-text-stroke:0.28px #222;"><span style="transform:translateY(2.0px) scaleX(0.88)">0.007</span></div>
<div class="a c" style="left:490.5px;top:208.35px;width:37.0px;height:19.35px;font-size:12.4px;color:#222;font-weight:normal;-webkit-text-stroke:0.28px #222;"><span style="transform:translateY(2.0px) scaleX(0.88)">0.009</span></div>
<div class="a c" style="left:527.5px;top:208.35px;width:38.0px;height:19.35px;font-size:12.4px;color:#222;font-weight:normal;-webkit-text-stroke:0.28px #222;"><span style="transform:translateY(2.0px) scaleX(0.88)">0.013</span></div>
<div class="a c" style="left:565.5px;top:208.35px;width:39.5px;height:19.35px;font-size:12.4px;color:#222;font-weight:normal;-webkit-text-stroke:0.28px #222;"><span style="transform:translateY(2.0px) scaleX(0.88)">0.016</span></div>
<div class="a c" style="left:605px;top:208.35px;width:40px;height:19.35px;font-size:12.4px;color:#222;font-weight:normal;-webkit-text-stroke:0.28px #222;"><span style="transform:translateY(2.0px) scaleX(0.88)">0.020</span></div>
<div class="a c" style="left:645px;top:208.35px;width:39.5px;height:19.35px;font-size:12.4px;color:#222;font-weight:normal;-webkit-text-stroke:0.28px #222;"><span style="transform:translateY(2.0px) scaleX(0.88)">0.025</span></div>
<div class="a c" style="left:684.5px;top:208.35px;width:41.0px;height:19.35px;font-size:12.4px;color:#222;font-weight:normal;-webkit-text-stroke:0.28px #222;"><span style="transform:translateY(2.0px) scaleX(0.88)">0.030</span></div>
<div class="a c" style="left:725.5px;top:208.35px;width:35.5px;height:19.35px;font-size:12.4px;color:#222;font-weight:normal;-webkit-text-stroke:0.28px #222;"><span style="transform:translateY(2.0px) scaleX(0.88)">0.038</span></div>
<div class="a c" style="left:761px;top:208.35px;width:39px;height:19.35px;font-size:12.4px;color:#222;font-weight:normal;-webkit-text-stroke:0.28px #222;"><span style="transform:translateY(2.0px) scaleX(0.88)">0.0490</span></div>
<div class="a" style="left:435px;top:227.7px;width:20.5px;height:18.85px;background:#ececec;"></div>
<div class="a" style="left:456.5px;top:227.7px;width:33.5px;height:18.85px;background:#ececec;"></div>
<div class="a" style="left:491.0px;top:227.7px;width:36.0px;height:18.85px;background:#ececec;"></div>
<div class="a" style="left:528.0px;top:227.7px;width:37.0px;height:18.85px;background:#ececec;"></div>
<div class="a" style="left:566.0px;top:227.7px;width:38.5px;height:18.85px;background:#ececec;"></div>
<div class="a" style="left:605.5px;top:227.7px;width:39px;height:18.85px;background:#ececec;"></div>
<div class="a" style="left:645.5px;top:227.7px;width:38.5px;height:18.85px;background:#ececec;"></div>
<div class="a" style="left:685.0px;top:227.7px;width:40.0px;height:18.85px;background:#ececec;"></div>
<div class="a" style="left:726.0px;top:227.7px;width:34.5px;height:18.85px;background:#ececec;"></div>
<div class="a" style="left:761.5px;top:227.7px;width:38px;height:18.85px;background:#ececec;"></div>
<div class="a c" style="left:435px;top:227.7px;width:21px;height:19.35px;font-size:12.4px;color:#222;font-weight:normal;-webkit-text-stroke:0.28px #222;"><span style="transform:translateY(2.0px) scaleX(0.88)">5</span></div>
<div class="a c" style="left:456px;top:227.7px;width:34.5px;height:19.35px;font-size:12.4px;color:#222;font-weight:normal;-webkit-text-stroke:0.28px #222;"><span style="transform:translateY(2.0px) scaleX(0.88)">0.010</span></div>
<div class="a c" style="left:490.5px;top:227.7px;width:37.0px;height:19.35px;font-size:12.4px;color:#222;font-weight:normal;-webkit-text-stroke:0.28px #222;"><span style="transform:translateY(2.0px) scaleX(0.88)">0.013</span></div>
<div class="a c" style="left:527.5px;top:227.7px;width:38.0px;height:19.35px;font-size:12.4px;color:#222;font-weight:normal;-webkit-text-stroke:0.28px #222;"><span style="transform:translateY(2.0px) scaleX(0.88)">0.017</span></div>
<div class="a c" style="left:565.5px;top:227.7px;width:39.5px;height:19.35px;font-size:12.4px;color:#222;font-weight:normal;-webkit-text-stroke:0.28px #222;"><span style="transform:translateY(2.0px) scaleX(0.88)">0.020</span></div>
<div class="a c" style="left:605px;top:227.7px;width:40px;height:19.35px;font-size:12.4px;color:#222;font-weight:normal;-webkit-text-stroke:0.28px #222;"><span style="transform:translateY(2.0px) scaleX(0.88)">0.025</span></div>
<div class="a c" style="left:645px;top:227.7px;width:39.5px;height:19.35px;font-size:12.4px;color:#222;font-weight:normal;-webkit-text-stroke:0.28px #222;"><span style="transform:translateY(2.0px) scaleX(0.88)">0.031</span></div>
<div class="a c" style="left:684.5px;top:227.7px;width:41.0px;height:19.35px;font-size:12.4px;color:#222;font-weight:normal;-webkit-text-stroke:0.28px #222;"><span style="transform:translateY(2.0px) scaleX(0.88)">0.036</span></div>
<div class="a c" style="left:725.5px;top:227.7px;width:35.5px;height:19.35px;font-size:12.4px;color:#222;font-weight:normal;-webkit-text-stroke:0.28px #222;"><span style="transform:translateY(2.0px) scaleX(0.88)">0.046</span></div>
<div class="a c" style="left:761px;top:227.7px;width:39px;height:19.35px;font-size:12.4px;color:#222;font-weight:normal;-webkit-text-stroke:0.28px #222;"><span style="transform:translateY(2.0px) scaleX(0.88)">0.0580</span></div>
<div class="a c" style="left:435px;top:247.05px;width:21px;height:19.35px;font-size:12.4px;color:#222;font-weight:normal;-webkit-text-stroke:0.28px #222;"><span style="transform:translateY(2.0px) scaleX(0.88)">6</span></div>
<div class="a c" style="left:456px;top:247.05px;width:34.5px;height:19.35px;font-size:12.4px;color:#222;font-weight:normal;-webkit-text-stroke:0.28px #222;"><span style="transform:translateY(2.0px) scaleX(0.88)">0.014</span></div>
<div class="a c" style="left:490.5px;top:247.05px;width:37.0px;height:19.35px;font-size:12.4px;color:#222;font-weight:normal;-webkit-text-stroke:0.28px #222;"><span style="transform:translateY(2.0px) scaleX(0.88)">0.018</span></div>
<div class="a c" style="left:527.5px;top:247.05px;width:38.0px;height:19.35px;font-size:12.4px;color:#222;font-weight:normal;-webkit-text-stroke:0.28px #222;"><span style="transform:translateY(2.0px) scaleX(0.88)">0.022</span></div>
<div class="a c" style="left:565.5px;top:247.05px;width:39.5px;height:19.35px;font-size:12.4px;color:#222;font-weight:normal;-webkit-text-stroke:0.28px #222;"><span style="transform:translateY(2.0px) scaleX(0.88)">0.026</span></div>
<div class="a c" style="left:605px;top:247.05px;width:40px;height:19.35px;font-size:12.4px;color:#222;font-weight:normal;-webkit-text-stroke:0.28px #222;"><span style="transform:translateY(2.0px) scaleX(0.88)">0.030</span></div>
<div class="a c" style="left:645px;top:247.05px;width:39.5px;height:19.35px;font-size:12.4px;color:#222;font-weight:normal;-webkit-text-stroke:0.28px #222;"><span style="transform:translateY(2.0px) scaleX(0.88)">0.037</span></div>
<div class="a c" style="left:684.5px;top:247.05px;width:41.0px;height:19.35px;font-size:12.4px;color:#222;font-weight:normal;-webkit-text-stroke:0.28px #222;"><span style="transform:translateY(2.0px) scaleX(0.88)">0.044</span></div>
<div class="a c" style="left:725.5px;top:247.05px;width:35.5px;height:19.35px;font-size:12.4px;color:#222;font-weight:normal;-webkit-text-stroke:0.28px #222;"><span style="transform:translateY(2.0px) scaleX(0.88)">0.050</span></div>
<div class="a c" style="left:761px;top:247.05px;width:39px;height:19.35px;font-size:12.4px;color:#222;font-weight:normal;-webkit-text-stroke:0.28px #222;"><span style="transform:translateY(2.0px) scaleX(0.88)">0.0620</span></div>
<div class="a" style="left:435px;top:266.4px;width:20.5px;height:18.85px;background:#ececec;"></div>
<div class="a" style="left:456.5px;top:266.4px;width:33.5px;height:18.85px;background:#ececec;"></div>
<div class="a" style="left:491.0px;top:266.4px;width:36.0px;height:18.85px;background:#ececec;"></div>
<div class="a" style="left:528.0px;top:266.4px;width:37.0px;height:18.85px;background:#ececec;"></div>
<div class="a" style="left:566.0px;top:266.4px;width:38.5px;height:18.85px;background:#ececec;"></div>
<div class="a" style="left:605.5px;top:266.4px;width:39px;height:18.85px;background:#ececec;"></div>
<div class="a" style="left:645.5px;top:266.4px;width:38.5px;height:18.85px;background:#ececec;"></div>
<div class="a" style="left:685.0px;top:266.4px;width:40.0px;height:18.85px;background:#ececec;"></div>
<div class="a" style="left:726.0px;top:266.4px;width:34.5px;height:18.85px;background:#ececec;"></div>
<div class="a" style="left:761.5px;top:266.4px;width:38px;height:18.85px;background:#ececec;"></div>
<div class="a c" style="left:435px;top:266.4px;width:21px;height:19.35px;font-size:12.4px;color:#222;font-weight:normal;-webkit-text-stroke:0.28px #222;"><span style="transform:translateY(2.0px) scaleX(0.88)">8</span></div>
<div class="a c" style="left:456px;top:266.4px;width:34.5px;height:19.35px;font-size:12.4px;color:#222;font-weight:normal;-webkit-text-stroke:0.28px #222;"><span style="transform:translateY(2.0px) scaleX(0.88)">0.020</span></div>
<div class="a c" style="left:490.5px;top:266.4px;width:37.0px;height:19.35px;font-size:12.4px;color:#222;font-weight:normal;-webkit-text-stroke:0.28px #222;"><span style="transform:translateY(2.0px) scaleX(0.88)">0.025</span></div>
<div class="a c" style="left:527.5px;top:266.4px;width:38.0px;height:19.35px;font-size:12.4px;color:#222;font-weight:normal;-webkit-text-stroke:0.28px #222;"><span style="transform:translateY(2.0px) scaleX(0.88)">0.029</span></div>
<div class="a c" style="left:565.5px;top:266.4px;width:39.5px;height:19.35px;font-size:12.4px;color:#222;font-weight:normal;-webkit-text-stroke:0.28px #222;"><span style="transform:translateY(2.0px) scaleX(0.88)">0.034</span></div>
<div class="a c" style="left:605px;top:266.4px;width:40px;height:19.35px;font-size:12.4px;color:#222;font-weight:normal;-webkit-text-stroke:0.28px #222;"><span style="transform:translateY(2.0px) scaleX(0.88)">0.040</span></div>
<div class="a c" style="left:645px;top:266.4px;width:39.5px;height:19.35px;font-size:12.4px;color:#222;font-weight:normal;-webkit-text-stroke:0.28px #222;"><span style="transform:translateY(2.0px) scaleX(0.88)">0.048</span></div>
<div class="a c" style="left:684.5px;top:266.4px;width:41.0px;height:19.35px;font-size:12.4px;color:#222;font-weight:normal;-webkit-text-stroke:0.28px #222;"><span style="transform:translateY(2.0px) scaleX(0.88)">0.056</span></div>
<div class="a c" style="left:725.5px;top:266.4px;width:35.5px;height:19.35px;font-size:12.4px;color:#222;font-weight:normal;-webkit-text-stroke:0.28px #222;"><span style="transform:translateY(2.0px) scaleX(0.88)">0.064</span></div>
<div class="a c" style="left:761px;top:266.4px;width:39px;height:19.35px;font-size:12.4px;color:#222;font-weight:normal;-webkit-text-stroke:0.28px #222;"><span style="transform:translateY(2.0px) scaleX(0.88)">0.0730</span></div>
<div class="a c" style="left:435px;top:285.75px;width:21px;height:19.35px;font-size:12.4px;color:#222;font-weight:normal;-webkit-text-stroke:0.28px #222;"><span style="transform:translateY(2.0px) scaleX(0.88)">10</span></div>
<div class="a c" style="left:456px;top:285.75px;width:34.5px;height:19.35px;font-size:12.4px;color:#222;font-weight:normal;-webkit-text-stroke:0.28px #222;"><span style="transform:translateY(2.0px) scaleX(0.88)">0.026</span></div>
<div class="a c" style="left:490.5px;top:285.75px;width:37.0px;height:19.35px;font-size:12.4px;color:#222;font-weight:normal;-webkit-text-stroke:0.28px #222;"><span style="transform:translateY(2.0px) scaleX(0.88)">0.030</span></div>
<div class="a c" style="left:527.5px;top:285.75px;width:38.0px;height:19.35px;font-size:12.4px;color:#222;font-weight:normal;-webkit-text-stroke:0.28px #222;"><span style="transform:translateY(2.0px) scaleX(0.88)">0.038</span></div>
<div class="a c" style="left:565.5px;top:285.75px;width:39.5px;height:19.35px;font-size:12.4px;color:#222;font-weight:normal;-webkit-text-stroke:0.28px #222;"><span style="transform:translateY(2.0px) scaleX(0.88)">0.042</span></div>
<div class="a c" style="left:605px;top:285.75px;width:40px;height:19.35px;font-size:12.4px;color:#222;font-weight:normal;-webkit-text-stroke:0.28px #222;"><span style="transform:translateY(2.0px) scaleX(0.88)">0.050</span></div>
<div class="a c" style="left:645px;top:285.75px;width:39.5px;height:19.35px;font-size:12.4px;color:#222;font-weight:normal;-webkit-text-stroke:0.28px #222;"><span style="transform:translateY(2.0px) scaleX(0.88)">0.059</span></div>
<div class="a c" style="left:684.5px;top:285.75px;width:41.0px;height:19.35px;font-size:12.4px;color:#222;font-weight:normal;-webkit-text-stroke:0.28px #222;"><span style="transform:translateY(2.0px) scaleX(0.88)">0.067</span></div>
<div class="a c" style="left:725.5px;top:285.75px;width:35.5px;height:19.35px;font-size:12.4px;color:#222;font-weight:normal;-webkit-text-stroke:0.28px #222;"><span style="transform:translateY(2.0px) scaleX(0.88)">0.076</span></div>
<div class="a c" style="left:761px;top:285.75px;width:39px;height:19.35px;font-size:12.4px;color:#222;font-weight:normal;-webkit-text-stroke:0.28px #222;"><span style="transform:translateY(2.0px) scaleX(0.88)">0.0880</span></div>
<div class="a" style="left:435px;top:305.1px;width:20.5px;height:18.85px;background:#ececec;"></div>
<div class="a" style="left:456.5px;top:305.1px;width:33.5px;height:18.85px;background:#ececec;"></div>
<div class="a" style="left:491.0px;top:305.1px;width:36.0px;height:18.85px;background:#ececec;"></div>
<div class="a" style="left:528.0px;top:305.1px;width:37.0px;height:18.85px;background:#ececec;"></div>
<div class="a" style="left:566.0px;top:305.1px;width:38.5px;height:18.85px;background:#ececec;"></div>
<div class="a" style="left:605.5px;top:305.1px;width:39px;height:18.85px;background:#ececec;"></div>
<div class="a" style="left:645.5px;top:305.1px;width:38.5px;height:18.85px;background:#ececec;"></div>
<div class="a" style="left:685.0px;top:305.1px;width:40.0px;height:18.85px;background:#ececec;"></div>
<div class="a" style="left:726.0px;top:305.1px;width:34.5px;height:18.85px;background:#ececec;"></div>
<div class="a" style="left:761.5px;top:305.1px;width:38px;height:18.85px;background:#ececec;"></div>
<div class="a c" style="left:435px;top:305.1px;width:21px;height:19.35px;font-size:12.4px;color:#222;font-weight:normal;-webkit-text-stroke:0.28px #222;"><span style="transform:translateY(2.0px) scaleX(0.88)">12</span></div>
<div class="a c" style="left:456px;top:305.1px;width:34.5px;height:19.35px;font-size:12.4px;color:#222;font-weight:normal;-webkit-text-stroke:0.28px #222;"><span style="transform:translateY(2.0px) scaleX(0.88)">0.035</span></div>
<div class="a c" style="left:490.5px;top:305.1px;width:37.0px;height:19.35px;font-size:12.4px;color:#222;font-weight:normal;-webkit-text-stroke:0.28px #222;"><span style="transform:translateY(2.0px) scaleX(0.88)">0.042</span></div>
<div class="a c" style="left:527.5px;top:305.1px;width:38.0px;height:19.35px;font-size:12.4px;color:#222;font-weight:normal;-webkit-text-stroke:0.28px #222;"><span style="transform:translateY(2.0px) scaleX(0.88)">0.053</span></div>
<div class="a c" style="left:565.5px;top:305.1px;width:39.5px;height:19.35px;font-size:12.4px;color:#222;font-weight:normal;-webkit-text-stroke:0.28px #222;"><span style="transform:translateY(2.0px) scaleX(0.88)">0.060</span></div>
<div class="a c" style="left:605px;top:305.1px;width:40px;height:19.35px;font-size:12.4px;color:#222;font-weight:normal;-webkit-text-stroke:0.28px #222;"><span style="transform:translateY(2.0px) scaleX(0.88)">0.070</span></div>
<div class="a c" style="left:645px;top:305.1px;width:39.5px;height:19.35px;font-size:12.4px;color:#222;font-weight:normal;-webkit-text-stroke:0.28px #222;"><span style="transform:translateY(2.0px) scaleX(0.88)">0.080</span></div>
<div class="a c" style="left:684.5px;top:305.1px;width:41.0px;height:19.35px;font-size:12.4px;color:#222;font-weight:normal;-webkit-text-stroke:0.28px #222;"><span style="transform:translateY(2.0px) scaleX(0.88)">0.092</span></div>
<div class="a c" style="left:725.5px;top:305.1px;width:35.5px;height:19.35px;font-size:12.4px;color:#222;font-weight:normal;-webkit-text-stroke:0.28px #222;"><span style="transform:translateY(2.0px) scaleX(0.88)">0.102</span></div>
<div class="a c" style="left:761px;top:305.1px;width:39px;height:19.35px;font-size:12.4px;color:#222;font-weight:normal;-webkit-text-stroke:0.28px #222;"><span style="transform:translateY(2.0px) scaleX(0.88)">0.1150</span></div>
<div class="a c" style="left:435px;top:324.45000000000005px;width:21px;height:19.35px;font-size:12.4px;color:#222;font-weight:normal;-webkit-text-stroke:0.28px #222;"><span style="transform:translateY(2.0px) scaleX(0.88)">16</span></div>
<div class="a c" style="left:456px;top:324.45000000000005px;width:34.5px;height:19.35px;font-size:12.4px;color:#222;font-weight:normal;-webkit-text-stroke:0.28px #222;"><span style="transform:translateY(2.0px) scaleX(0.88)">0.042</span></div>
<div class="a c" style="left:490.5px;top:324.45000000000005px;width:37.0px;height:19.35px;font-size:12.4px;color:#222;font-weight:normal;-webkit-text-stroke:0.28px #222;"><span style="transform:translateY(2.0px) scaleX(0.88)">0.060</span></div>
<div class="a c" style="left:527.5px;top:324.45000000000005px;width:38.0px;height:19.35px;font-size:12.4px;color:#222;font-weight:normal;-webkit-text-stroke:0.28px #222;"><span style="transform:translateY(2.0px) scaleX(0.88)">0.082</span></div>
<div class="a c" style="left:565.5px;top:324.45000000000005px;width:39.5px;height:19.35px;font-size:12.4px;color:#222;font-weight:normal;-webkit-text-stroke:0.28px #222;"><span style="transform:translateY(2.0px) scaleX(0.88)">0.100</span></div>
<div class="a c" style="left:605px;top:324.45000000000005px;width:40px;height:19.35px;font-size:12.4px;color:#222;font-weight:normal;-webkit-text-stroke:0.28px #222;"><span style="transform:translateY(2.0px) scaleX(0.88)">0.110</span></div>
<div class="a c" style="left:645px;top:324.45000000000005px;width:39.5px;height:19.35px;font-size:12.4px;color:#222;font-weight:normal;-webkit-text-stroke:0.28px #222;"><span style="transform:translateY(2.0px) scaleX(0.88)">0.120</span></div>
<div class="a c" style="left:684.5px;top:324.45000000000005px;width:41.0px;height:19.35px;font-size:12.4px;color:#222;font-weight:normal;-webkit-text-stroke:0.28px #222;"><span style="transform:translateY(2.0px) scaleX(0.88)">0.130</span></div>
<div class="a c" style="left:725.5px;top:324.45000000000005px;width:35.5px;height:19.35px;font-size:12.4px;color:#222;font-weight:normal;-webkit-text-stroke:0.28px #222;"><span style="transform:translateY(2.0px) scaleX(0.88)">0.138</span></div>
<div class="a c" style="left:761px;top:324.45000000000005px;width:39px;height:19.35px;font-size:12.4px;color:#222;font-weight:normal;-webkit-text-stroke:0.28px #222;"><span style="transform:translateY(2.0px) scaleX(0.88)">0.1500</span></div>
<div class="a" style="left:434px;top:528.5px;width:366px;height:133.5px;background:#ececec;"></div>
<div class="a" style="left:616px;top:449px;width:184px;height:80px;background:#ececec;"></div>
<div class="a" style="left:445px;top:349.3px;width:165.5px;height:173.43px;border:1px solid #8a8a8a;border-bottom:none;box-sizing:border-box;background:#fff"></div>
<div class="a" style="left:578px;top:349.3px;width:1px;height:173.43px;background:#8a8a8a;"></div>
<div class="a" style="left:434.5px;top:349.8px;width:10px;height:18.27px;background:#0a98de;"></div>
<div class="a c" style="left:446px;top:349.3px;width:132px;height:19.27px;font-size:12.6px;color:#2b2b2b;font-weight:normal;-webkit-text-stroke:0.35px #2b2b2b;"><span style="transform:translateY(1.6px) scaleX(0.693)">Steel</span></div>
<div class="a" style="left:587.8000000000001px;top:352.735px;width:13.6px;height:13.6px;border-radius:50%;background:#555"></div>
<div class="a" style="left:434.5px;top:369.07px;width:10px;height:18.27px;background:#f9d900;"></div>
<div class="a" style="left:445px;top:368.57px;width:165.5px;height:1px;background:#9a9a9a;"></div>
<div class="a c" style="left:446px;top:368.57px;width:132px;height:19.27px;font-size:12.6px;color:#2b2b2b;font-weight:normal;-webkit-text-stroke:0.35px #2b2b2b;"><span style="transform:translateY(1.6px) scaleX(0.693)">Stainless Steel</span></div>
<div class="a" style="left:587.8000000000001px;top:372.005px;width:13.6px;height:13.6px;border-radius:50%;border:1px solid #444;box-sizing:border-box;background:linear-gradient(90deg,#fff 50%,#555 50%)"></div>
<div class="a" style="left:434.5px;top:388.34000000000003px;width:10px;height:18.27px;background:#646464;"></div>
<div class="a" style="left:445px;top:387.84000000000003px;width:165.5px;height:1px;background:#9a9a9a;"></div>
<div class="a c" style="left:446px;top:387.84000000000003px;width:132px;height:19.27px;font-size:12.6px;color:#2b2b2b;font-weight:normal;-webkit-text-stroke:0.35px #2b2b2b;"><span style="transform:translateY(1.6px) scaleX(0.693)">Hardened Steel ≤54 HRc</span></div>
<div class="a" style="left:587.8000000000001px;top:391.27500000000003px;width:13.6px;height:13.6px;border-radius:50%;border:1px solid #555;box-sizing:border-box;background:#fff"></div>
<div class="a" style="left:434.5px;top:407.61px;width:10px;height:18.27px;background:#646464;"></div>
<div class="a" style="left:445px;top:407.11px;width:165.5px;height:1px;background:#9a9a9a;"></div>
<div class="a c" style="left:446px;top:407.11px;width:132px;height:19.27px;font-size:12.6px;color:#2b2b2b;font-weight:normal;-webkit-text-stroke:0.35px #2b2b2b;"><span style="transform:translateY(1.6px) scaleX(0.693)">Hardened Steel &gt;54 HRc</span></div>
<div class="a" style="left:587.8000000000001px;top:410.545px;width:13.6px;height:13.6px;border-radius:50%;border:1px solid #555;box-sizing:border-box;background:#fff"></div>
<div class="a" style="left:434.5px;top:426.88px;width:10px;height:18.27px;background:#e4002b;"></div>
<div class="a" style="left:445px;top:426.38px;width:165.5px;height:1px;background:#9a9a9a;"></div>
<div class="a c" style="left:446px;top:426.38px;width:132px;height:19.27px;font-size:12.6px;color:#2b2b2b;font-weight:normal;-webkit-text-stroke:0.35px #2b2b2b;"><span style="transform:translateY(1.6px) scaleX(0.693)">Cast Iron</span></div>
<div class="a" style="left:587.8000000000001px;top:429.815px;width:13.6px;height:13.6px;border-radius:50%;border:1px solid #444;box-sizing:border-box;background:linear-gradient(90deg,#fff 50%,#555 50%)"></div>
<div class="a" style="left:434.5px;top:446.15px;width:10px;height:18.27px;background:#3a3a3a;"></div>
<div class="a" style="left:445px;top:445.65px;width:165.5px;height:1px;background:#9a9a9a;"></div>
<div class="a c" style="left:446px;top:445.65px;width:132px;height:19.27px;font-size:12.6px;color:#2b2b2b;font-weight:normal;-webkit-text-stroke:0.35px #2b2b2b;"><span style="transform:translateY(1.6px) scaleX(0.693)">Graphite</span></div>
<div class="a" style="left:587.8000000000001px;top:449.085px;width:13.6px;height:13.6px;border-radius:50%;border:1px solid #555;box-sizing:border-box;background:#fff"></div>
<div class="a" style="left:434.5px;top:465.42px;width:10px;height:18.27px;background:#0a9160;"></div>
<div class="a" style="left:445px;top:464.92px;width:165.5px;height:1px;background:#9a9a9a;"></div>
<div class="a c" style="left:446px;top:464.92px;width:132px;height:19.27px;font-size:12.6px;color:#2b2b2b;font-weight:normal;-webkit-text-stroke:0.35px #2b2b2b;"><span style="transform:translateY(1.6px) scaleX(0.693)">Non Ferrous Material</span></div>
<div class="a" style="left:587.8000000000001px;top:468.355px;width:13.6px;height:13.6px;border-radius:50%;border:1px solid #555;box-sizing:border-box;background:#fff"></div>
<div class="a" style="left:434.5px;top:484.69px;width:10px;height:18.27px;background:#e85a0c;"></div>
<div class="a" style="left:445px;top:484.19px;width:165.5px;height:1px;background:#9a9a9a;"></div>
<div class="a c" style="left:446px;top:484.19px;width:132px;height:19.27px;font-size:12.6px;color:#2b2b2b;font-weight:normal;-webkit-text-stroke:0.35px #2b2b2b;"><span style="transform:translateY(1.6px) scaleX(0.693)">HRSA</span></div>
<div class="a" style="left:587.8000000000001px;top:487.625px;width:13.6px;height:13.6px;border-radius:50%;border:1px solid #555;box-sizing:border-box;background:#fff"></div>
<div class="a" style="left:434.5px;top:503.96000000000004px;width:10px;height:18.27px;background:#f18a00;"></div>
<div class="a" style="left:445px;top:503.46000000000004px;width:165.5px;height:1px;background:#9a9a9a;"></div>
<div class="a c" style="left:446px;top:503.46000000000004px;width:132px;height:19.27px;font-size:12.6px;color:#2b2b2b;font-weight:normal;-webkit-text-stroke:0.35px #2b2b2b;"><span style="transform:translateY(1.6px) scaleX(0.693)">Titanium</span></div>
<div class="a" style="left:587.8000000000001px;top:506.89500000000004px;width:13.6px;height:13.6px;border-radius:50%;border:1px solid #555;box-sizing:border-box;background:#fff"></div>
<div class="a" style="left:617px;top:453px;width:57px;height:57px;border:1px solid #a8a8a8;border-radius:7px;box-sizing:border-box;background:#ededed"></div>
<div class="a" style="left:678px;top:453px;width:57px;height:57px;border:1px solid #a8a8a8;border-radius:7px;box-sizing:border-box;background:#ededed"></div>
<div class="a" style="left:740px;top:453px;width:57px;height:57px;border:1px solid #a8a8a8;border-radius:7px;box-sizing:border-box;background:#ededed"></div>
<div class="a" style="left:435px;top:530px;width:57px;height:57px;border:1px solid #a8a8a8;border-radius:7px;box-sizing:border-box;background:#ededed"></div>
<div class="a" style="left:496px;top:530px;width:57px;height:57px;border:1px solid #a8a8a8;border-radius:7px;box-sizing:border-box;background:#ededed"></div>
<div class="a" style="left:557px;top:530px;width:57px;height:57px;border:1px solid #a8a8a8;border-radius:7px;box-sizing:border-box;background:#ededed"></div>
<div class="a" style="left:435px;top:600px;width:57px;height:57px;border:1px solid #a8a8a8;border-radius:7px;box-sizing:border-box;background:#ededed"></div>
<div class="a" style="left:617px;top:542px;width:57px;height:57px;border:1px solid #a8a8a8;border-radius:7px;box-sizing:border-box;background:#ededed"></div>
<div class="a" style="left:678px;top:542px;width:57px;height:57px;border:1px solid #a8a8a8;border-radius:7px;box-sizing:border-box;background:#ededed"></div>
<div class="a" style="left:739px;top:542px;width:57px;height:57px;border:1px solid #a8a8a8;border-radius:7px;box-sizing:border-box;background:#ededed"></div>
<div class="a" style="left:617px;top:604px;width:57px;height:57px;border:1px solid #a8a8a8;border-radius:7px;box-sizing:border-box;background:#ededed"></div>
<div class="a" style="left:678px;top:604px;width:57px;height:57px;border:1px solid #a8a8a8;border-radius:7px;box-sizing:border-box;background:#ededed"></div>
<div class="a" style="left:739px;top:604px;width:57px;height:57px;border:1px solid #a8a8a8;border-radius:7px;box-sizing:border-box;background:#ededed"></div>
<svg class="a" style="left:0;top:0" width="800" height="800" viewBox="0 0 800 800"><defs>
<clipPath id="clA"><rect x="435.5" y="530.5" width="56" height="56" rx="6.5"/></clipPath>
<clipPath id="clB2"><rect x="496.5" y="530.5" width="56" height="56" rx="6.5"/></clipPath>
<clipPath id="clC"><rect x="557.5" y="530.5" width="56" height="56" rx="6.5"/></clipPath>
</defs><g transform="translate(614,540) scale(0.08250825082508251)"><polygon points="92,215 185,265 185,375 440,520 440,640 92,440" fill="#f3f3f3" stroke="#222" stroke-width="9.5" stroke-linejoin="round"/><polygon points="440,520 688,383 688,500 440,640" fill="#f3f3f3" stroke="#222" stroke-width="9.5" stroke-linejoin="round"/><polygon points="92,215 340,75 432,128 185,265" fill="#f3f3f3" stroke="#222" stroke-width="9.5" stroke-linejoin="round"/><polygon points="185,265 432,128 432,238 185,375" fill="#1b6fb0" stroke="#222" stroke-width="9.5" stroke-linejoin="round"/><polygon points="185,375 432,238 688,383 440,520" fill="#1f80c5" stroke="#222" stroke-width="9.5" stroke-linejoin="round"/></g><g transform="translate(675,540) scale(0.08250825082508251)"><polygon points="92,210 190,265 190,378 340,460 340,350 438,410 438,630 92,435" fill="#f3f3f3" stroke="#222" stroke-width="9.5" stroke-linejoin="round"/><polygon points="438,410 688,265 688,490 438,630" fill="#f3f3f3" stroke="#222" stroke-width="9.5" stroke-linejoin="round"/><polygon points="92,210 338,65 438,125 190,265" fill="#f3f3f3" stroke="#222" stroke-width="9.5" stroke-linejoin="round"/><polygon points="190,265 438,125 438,235 190,378" fill="#1b6fb0" stroke="#222" stroke-width="9.5" stroke-linejoin="round"/><polygon points="190,378 438,235 490,263 340,350 340,460" fill="#1f80c5" stroke="#222" stroke-width="9.5" stroke-linejoin="round"/><polygon points="340,350 590,210 688,265 438,410" fill="#f3f3f3" stroke="#222" stroke-width="9.5" stroke-linejoin="round"/></g><g transform="translate(736,540) scale(0.08)"><polygon points="92,230 450,435 450,665 92,470" fill="#f3f3f3" stroke="#222" stroke-width="9.5" stroke-linejoin="round"/><polygon points="450,435 710,295 710,520 450,665" fill="#f3f3f3" stroke="#222" stroke-width="9.5" stroke-linejoin="round"/><polygon points="92,230 345,85 710,295 450,435" fill="#f3f3f3" stroke="#222" stroke-width="9.5" stroke-linejoin="round"/><path d="M492.7,384.9 L609.5,318.0 L352.3,170.7 L343.8,166.5 L334.4,162.9 L324.2,160.1 L313.5,158.2 L302.3,157.1 L291.1,156.9 L279.9,157.5 L268.9,159.1 L258.4,161.4 L248.6,164.6 L239.6,168.5 L231.7,173.1 L224.8,178.2 L219.3,183.9 L215.2,189.9 L212.5,196.1 L211.4,202.6 L211.8,209.0 L213.7,215.4 L217.1,221.5 L221.9,227.4 L228.1,232.8 L235.5,237.6 Z" fill="#1d6eaa"/><g clip-path="url(#cp9)"><path d="M492.7,406.9 L609.5,340.0 L352.3,192.7 L343.8,188.5 L334.4,184.9 L324.2,182.1 L313.5,180.2 L302.3,179.1 L291.1,178.9 L279.9,179.5 L268.9,181.1 L258.4,183.4 L248.6,186.6 L239.6,190.5 L231.7,195.1 L224.8,200.2 L219.3,205.9 L215.2,211.9 L212.5,218.1 L211.4,224.6 L211.8,231.0 L213.7,237.4 L217.1,243.5 L221.9,249.4 L228.1,254.8 L235.5,259.6 Z" fill="#1f80c5" stroke="#0c2c48" stroke-width="7"/></g><path d="M492.7,384.9 L609.5,318.0 L352.3,170.7 L343.8,166.5 L334.4,162.9 L324.2,160.1 L313.5,158.2 L302.3,157.1 L291.1,156.9 L279.9,157.5 L268.9,159.1 L258.4,161.4 L248.6,164.6 L239.6,168.5 L231.7,173.1 L224.8,178.2 L219.3,183.9 L215.2,189.9 L212.5,196.1 L211.4,202.6 L211.8,209.0 L213.7,215.4 L217.1,221.5 L221.9,227.4 L228.1,232.8 L235.5,237.6 Z" fill="none" stroke="#222" stroke-width="8" stroke-linejoin="round"/><path d="M610,380 C640,370 670,372 690,360 M600,395 C630,395 660,390 680,380" fill="none" stroke="#777" stroke-width="8"/></g><g transform="translate(614,600) scale(0.08250825082508251)"><polygon points="92,235 135,258 135,350 385,492 385,405 438,430 438,660 92,465" fill="#f3f3f3" stroke="#222" stroke-width="9.5" stroke-linejoin="round"/><polygon points="438,430 688,295 688,520 438,660" fill="#f3f3f3" stroke="#222" stroke-width="9.5" stroke-linejoin="round"/><polygon points="92,235 345,95 688,295 438,430 385,405 135,258" fill="#f3f3f3" stroke="#222" stroke-width="9.5" stroke-linejoin="round"/><path d="M135,258 C160,215 260,195 350,212 C440,230 485,280 470,322 C460,360 425,390 395,405 L385,405 L385,492 L135,350 Z" fill="#1f80c5" stroke="#222" stroke-width="10" stroke-linejoin="round"/><path d="M135,258 C150,230 220,215 290,218 C370,222 450,260 468,318" fill="none" stroke="#222" stroke-width="8"/><path d="M135,350 C180,330 240,320 300,322 C380,325 440,345 455,338" fill="none" stroke="#222" stroke-width="6" opacity="0.7"/><path d="M207.8,100.5 L214.0,98.8 L221.3,97.3 L229.4,96.0 L238.4,95.0 L248.0,94.3 L258.2,93.9 L268.9,93.8 L279.9,94.1 L291.1,94.7 L302.4,95.7 L313.5,97.0 L324.5,98.6 L335.1,100.6 L345.3,102.9 L354.8,105.5 L363.7,108.4 L371.7,111.6 L378.8,115.0 L384.9,118.7 L390.0,122.5 L393.9,126.4 L396.7,130.4 L398.2,134.6 L398.5,138.7 L397.6,142.8 L395.5,146.9 L392.2,151.0 L387.8,154.8 L382.2,158.6 L375.6,162.1 L368.1,165.5 L359.8,168.5 L350.7,171.3 L340.9,173.8 L330.7,176.0 L320.0,177.9 L309.1,179.4 L298.1,180.6 L287.0,181.4 L276.1,181.9 L265.4,182.0 L255.2,181.8 L245.4,181.3 L236.3,180.4 L228.0,179.3 L220.4,178.0 L213.8,176.4 L208.3,174.6 L203.8,172.7 L200.4,170.6 L198.2,168.5 L197.2,166.3 L197.4,164.0 L198.8,161.8 L201.4,159.7 L205.1,157.7 L210.0,155.8 L215.9,154.0 L222.7,152.5 L230.5,151.2 L239.0,150.2 L248.3,149.4 L258.1,149.0 L268.3,148.8 L278.9,149.0 L289.7,149.6 L300.6,150.5 L311.5,151.8 L322.1,153.4 L332.4,155.3 L342.3,157.6 L351.6,160.1 L360.3,163.0 L368.1,166.2 L375.1,169.5 L381.2,173.1 L386.2,176.9 L390.2,180.8 L393.0,184.9 L394.7,189.0 L395.1,193.1 L394.4,197.3 L392.5,201.4 L389.5,205.4 L385.4,209.3 L380.2,213.1 L373.9,216.6 L366.8,220.0 L358.9,223.1 L350.2,225.9 L340.8,228.5 L331.0,230.7 L320.7,232.6 L310.2,234.2 L299.5,235.4 L288.9,236.3 L278.3,236.8 L268.0,237.0 L258.0,236.8 L248.5,236.4 L239.6,235.6 L231.4,234.5 L224.0,233.2 L217.5,231.7 L212.0,229.9 L207.5,228.0 L204.1,225.9 L201.8,223.8 L200.7,221.6 L200.7,219.4 L201.9,217.2 L204.3,215.0 L207.7,212.9 L212.3,211.0 L217.8,209.3 L224.3,207.7 L231.7,206.4 L239.8,205.3 L248.6,204.5 L258.0,204.0 L267.9,203.8 L278.1,204.0 L288.5,204.5 L299.0,205.4 L309.5,206.6 L319.8,208.1 L329.8,210.0 L339.4,212.2 L348.5,214.8 L356.9,217.6 L364.6,220.7 L371.5,224.0 L377.5,227.6 L382.5,231.4 L386.5,235.3 L389.3,239.3 L391.1,243.4 L391.7,247.5 L391.2,251.7 L389.5,255.8 L386.8,259.8 L382.9,263.7 L378.0,267.5 L372.2,271.1 L365.4,274.5 L357.8,277.7 L349.5,280.6 L340.6,283.1 L331.2,285.4 L321.3,287.4 L311.2,289.0 L300.9,290.3 L290.6,291.2 L280.4,291.8 L270.4,292.0 L260.7,291.9 L251.5,291.5 L242.8,290.7 L234.8,289.7 L227.6,288.4 L221.2,286.9 L215.7,285.2 L211.3,283.3 L207.8,281.2 L205.5,279.1 L204.2,276.9 L204.1,274.7 L205.1,272.5 L207.2,270.3 L210.4,268.2 L214.6,266.3 L219.8,264.5 L225.9,262.9 L232.9,261.5 L240.7,260.4 L249.1,259.6 L258.1,259.1 L267.6,258.8 L277.3,259.0 L287.4,259.4 L297.5,260.2 L307.6,261.4 L317.5,262.9 L327.2,264.7 L336.6,266.9 L345.4,269.4 L353.6,272.2 L361.2,275.2 L367.9,278.5 L373.8,282.1 L378.8,285.8 L382.7,289.7 L385.7,293.7 L387.5,297.8 L388.3,301.9 L387.9,306.1 L386.5,310.2 L384.0,314.2 L380.4,318.2 L375.8,322.0" fill="none" stroke="#e42030" stroke-width="14" stroke-linecap="round" stroke-linejoin="round"/></g><defs><clipPath id="cp11"><path d="M444.9,380.9 L452.4,384.6 L460.9,387.7 L469.9,390.1 L479.5,391.7 L489.4,392.6 L499.4,392.6 L509.3,391.9 L519.0,390.4 L528.3,388.2 L537.0,385.2 L544.9,381.6 L551.9,377.3 L557.9,372.6 L562.8,367.5 L566.4,362.0 L568.6,356.3 L569.6,350.5 L569.2,344.7 L567.4,339.0 L564.3,333.4 L559.9,328.2 L554.4,323.4 L547.8,319.1 L322.3,191.7 L314.7,188.0 L306.3,184.9 L297.2,182.5 L287.6,180.8 L277.8,180.0 L267.8,179.9 L257.8,180.6 L248.1,182.1 L238.8,184.4 L230.2,187.4 L222.2,191.0 L215.2,195.2 L209.2,199.9 L204.4,205.1 L200.8,210.5 L198.5,216.2 L197.5,222.0 L198.0,227.9 L199.7,233.6 L202.8,239.1 L207.2,244.3 L212.7,249.1 L219.4,253.4 Z"/></clipPath><clipPath id="cp9"><path d="M492.7,384.9 L609.5,318.0 L352.3,170.7 L343.8,166.5 L334.4,162.9 L324.2,160.1 L313.5,158.2 L302.3,157.1 L291.1,156.9 L279.9,157.5 L268.9,159.1 L258.4,161.4 L248.6,164.6 L239.6,168.5 L231.7,173.1 L224.8,178.2 L219.3,183.9 L215.2,189.9 L212.5,196.1 L211.4,202.6 L211.8,209.0 L213.7,215.4 L217.1,221.5 L221.9,227.4 L228.1,232.8 L235.5,237.6 Z"/></clipPath></defs><g transform="translate(675,600) scale(0.08250825082508251)"><polygon points="85,260 430,455 430,685 85,488" fill="#f3f3f3" stroke="#222" stroke-width="9.5" stroke-linejoin="round"/><polygon points="430,455 680,315 680,540 430,685" fill="#f3f3f3" stroke="#222" stroke-width="9.5" stroke-linejoin="round"/><polygon points="85,260 335,110 680,315 430,455" fill="#f3f3f3" stroke="#222" stroke-width="9.5" stroke-linejoin="round"/><path d="M444.9,380.9 L452.4,384.6 L460.9,387.7 L469.9,390.1 L479.5,391.7 L489.4,392.6 L499.4,392.6 L509.3,391.9 L519.0,390.4 L528.3,388.2 L537.0,385.2 L544.9,381.6 L551.9,377.3 L557.9,372.6 L562.8,367.5 L566.4,362.0 L568.6,356.3 L569.6,350.5 L569.2,344.7 L567.4,339.0 L564.3,333.4 L559.9,328.2 L554.4,323.4 L547.8,319.1 L322.3,191.7 L314.7,188.0 L306.3,184.9 L297.2,182.5 L287.6,180.8 L277.8,180.0 L267.8,179.9 L257.8,180.6 L248.1,182.1 L238.8,184.4 L230.2,187.4 L222.2,191.0 L215.2,195.2 L209.2,199.9 L204.4,205.1 L200.8,210.5 L198.5,216.2 L197.5,222.0 L198.0,227.9 L199.7,233.6 L202.8,239.1 L207.2,244.3 L212.7,249.1 L219.4,253.4 Z" fill="#174f80"/><g clip-path="url(#cp11)"><path d="M444.9,400.9 L452.4,404.6 L460.9,407.7 L469.9,410.1 L479.5,411.7 L489.4,412.6 L499.4,412.6 L509.3,411.9 L519.0,410.4 L528.3,408.2 L537.0,405.2 L544.9,401.6 L551.9,397.3 L557.9,392.6 L562.8,387.5 L566.4,382.0 L568.6,376.3 L569.6,370.5 L569.2,364.7 L567.4,359.0 L564.3,353.4 L559.9,348.2 L554.4,343.4 L547.8,339.1 L322.3,211.7 L314.7,208.0 L306.3,204.9 L297.2,202.5 L287.6,200.8 L277.8,200.0 L267.8,199.9 L257.8,200.6 L248.1,202.1 L238.8,204.4 L230.2,207.4 L222.2,211.0 L215.2,215.2 L209.2,219.9 L204.4,225.1 L200.8,230.5 L198.5,236.2 L197.5,242.0 L198.0,247.9 L199.7,253.6 L202.8,259.1 L207.2,264.3 L212.7,269.1 L219.4,273.4 Z" fill="#1f80c5" stroke="#0c2c48" stroke-width="7"/></g><path d="M444.9,380.9 L452.4,384.6 L460.9,387.7 L469.9,390.1 L479.5,391.7 L489.4,392.6 L499.4,392.6 L509.3,391.9 L519.0,390.4 L528.3,388.2 L537.0,385.2 L544.9,381.6 L551.9,377.3 L557.9,372.6 L562.8,367.5 L566.4,362.0 L568.6,356.3 L569.6,350.5 L569.2,344.7 L567.4,339.0 L564.3,333.4 L559.9,328.2 L554.4,323.4 L547.8,319.1 L322.3,191.7 L314.7,188.0 L306.3,184.9 L297.2,182.5 L287.6,180.8 L277.8,180.0 L267.8,179.9 L257.8,180.6 L248.1,182.1 L238.8,184.4 L230.2,187.4 L222.2,191.0 L215.2,195.2 L209.2,199.9 L204.4,205.1 L200.8,210.5 L198.5,216.2 L197.5,222.0 L198.0,227.9 L199.7,233.6 L202.8,239.1 L207.2,244.3 L212.7,249.1 L219.4,253.4 Z" fill="none" stroke="#222" stroke-width="9" stroke-linejoin="round"/></g><g transform="translate(736,600) scale(0.08)"><polygon points="92,330 445,530 445,655 92,455" fill="#f3f3f3" stroke="#222" stroke-width="9.5" stroke-linejoin="round"/><polygon points="445,530 705,390 705,510 445,655" fill="#f3f3f3" stroke="#222" stroke-width="9.5" stroke-linejoin="round"/><polygon points="92,330 345,180 705,390 445,530" fill="#1f80c5" stroke="#222" stroke-width="9.5" stroke-linejoin="round"/></g><path d="M621.1,464.3 Q621.1,463.3 622.1,463.3 L632.9,463.3 Q633.9,463.3 633.9,464.3 L633.9,497.4 C631.5,498.9 628.5,498.9 626.6,497.4 C625,496.1 622.6,496.1 621.1,497.4 Z" fill="#f3f3f3" stroke="#444" stroke-width="0.75" stroke-linejoin="round"/><rect x="621.5" y="463.7" width="12" height="1.9" rx="0.7" fill="#8a8a8a"/><ellipse cx="623.9" cy="497.5" rx="2.6" ry="1.05" fill="#f3f3f3" stroke="#555" stroke-width="0.6"/><path d="M681.9,465 Q681.9,464 682.9,464 L693.5,464 Q694.5,464 694.5,465 L694.5,498.6 C692,500 689,500 687.2,498.6 C685.7,497.4 683.3,497.4 681.9,498.6 L681.9,486.9 L684.4,484.6 L684.4,473.8 L681.9,469.6 Z" fill="#f3f3f3" stroke="#444" stroke-width="0.75" stroke-linejoin="round"/><rect x="682.3" y="464.4" width="11.8" height="1.9" rx="0.7" fill="#8a8a8a"/><ellipse cx="684.6" cy="498.7" rx="2.6" ry="1.05" fill="#f3f3f3" stroke="#555" stroke-width="0.6"/><g transform="translate(736,450) scale(0.08)"><path d="M140,340 L255,340 C285,340 300,315 290,292 C280,270 248,270 243,292 C240,308 258,315 268,305" fill="none" stroke="#222" stroke-width="14" stroke-linecap="round" stroke-linejoin="round"/><path d="M195,390 L335,390 C365,390 385,370 380,345 C375,322 345,318 335,335 C328,350 345,360 355,350" fill="none" stroke="#222" stroke-width="14" stroke-linecap="round" stroke-linejoin="round"/><path d="M105,432 L255,432 C285,432 302,455 295,480 C288,505 255,510 246,490 C240,475 255,465 266,472" fill="none" stroke="#222" stroke-width="14" stroke-linecap="round" stroke-linejoin="round"/><path d="M515,240 C490,300 430,360 428,440 C426,505 480,545 540,540 C590,535 615,495 605,450 C600,430 585,420 570,430" fill="none" stroke="#222" stroke-width="14" stroke-linecap="round" stroke-linejoin="round"/><path d="M515,240 C530,280 550,320 570,350 M490,430 C520,380 580,395 600,355 C615,330 640,315 650,295" fill="none" stroke="#222" stroke-width="14" stroke-linecap="round" stroke-linejoin="round"/><path d="M545,480 C570,430 640,440 660,400 C675,375 690,360 705,350" fill="none" stroke="#222" stroke-width="14" stroke-linecap="round" stroke-linejoin="round"/><path d="M625,300 L660,280 L650,318 Z M680,355 L715,340 L700,378 Z" fill="#222" stroke="#222" stroke-width="8" stroke-linejoin="round"/></g><defs><g id="mill"><path d="M95,40 C92,200 150,360 140,470 C130,580 100,680 100,745 L575,745 C560,650 525,560 515,520 C545,420 600,250 580,40 Z" fill="#f3f3f3" stroke="none"/><path d="M95,40 C92,200 150,360 140,470 C130,580 100,680 100,745" fill="none" stroke="#222" stroke-width="22" stroke-linecap="round" stroke-linejoin="round"/><path d="M215,40 C170,160 150,300 145,460" fill="none" stroke="#222" stroke-width="17" stroke-linecap="round" stroke-linejoin="round"/><path d="M445,40 L130,520 M472,40 L152,530 M498,40 L172,545" fill="none" stroke="#222" stroke-width="15" stroke-linecap="round" stroke-linejoin="round"/><path d="M455,160 C380,330 260,520 178,705" fill="none" stroke="#222" stroke-width="22" stroke-linecap="round" stroke-linejoin="round"/><path d="M565,40 C600,150 575,300 520,430 C480,530 460,640 465,745" fill="none" stroke="#222" stroke-width="22" stroke-linecap="round" stroke-linejoin="round"/><path d="M515,520 C545,600 575,680 575,745" fill="none" stroke="#222" stroke-width="15" stroke-linecap="round" stroke-linejoin="round"/><path d="M300,725 L505,425 M328,732 L520,448 M355,738 L535,470" fill="none" stroke="#222" stroke-width="14" stroke-linecap="round" stroke-linejoin="round"/><path d="M100,742 L575,742" fill="none" stroke="#222" stroke-width="28" stroke-linecap="round" stroke-linejoin="round"/><path d="M240,715 C240,680 300,675 305,715" fill="none" stroke="#222" stroke-width="10" stroke-linecap="round" stroke-linejoin="round"/></g></defs><g clip-path="url(#clA)"><use href="#mill" transform="translate(437.2,528) scale(0.05249)"/></g><path d="M469,567.6 L484.5,567.6" stroke="#e8204f" stroke-width="1.05"/><path d="M486.8,567.6 L483.5,566 L483.5,569.2 Z" fill="#e8204f"/><path d="M466.2,569.4 L477.5,581" stroke="#e8204f" stroke-width="1.05"/><path d="M479.2,582.7 L476.9,579.4 L475.6,581.3 Z" fill="#e8204f"/><g clip-path="url(#clC)"><use href="#mill" transform="translate(560,528) scale(0.05249)"/></g><path d="M595.2,554.6 L595.2,564.8 L589.8,572.2 L579.7,572.2" fill="none" stroke="#e8204f" stroke-width="1.0"/><text x="594" y="578.6" font-family="Liberation Sans" font-size="9.8" fill="#e8204f" textLength="18" lengthAdjust="spacingAndGlyphs">45°</text><g clip-path="url(#clB2)"><path d="M497,550 C502,548 507,547.5 511,547.5 C515,547.5 518,550 522,549.5 C527,548.5 531,547.5 536,548 C540,548.5 543,548.3 548.5,548.3 L548.5,566 C544,566.5 540,565.2 535,565.5 C530,566 526,567 521,566.3 C516,565.5 511,566.5 506,566.2 C502,566 499,565.5 497,565.5 Z" fill="#f3f3f3" stroke="#222" stroke-width="0.9"/><path d="M497,551.5 C505,552 512,556 522,566 M497,554.5 C504,555.5 510,559 518,566 M497,558.5 C502,559.5 507,562.5 511,566 M497,562 C500,563 502,564.5 504,566" fill="none" stroke="#222" stroke-width="0.95" stroke-linecap="round"/><path d="M508,548 C518,550 528,556 540,566 M512,548 C522,550 532,557 543,566 M516,548 C526,551 536,558 546,565.5" fill="none" stroke="#222" stroke-width="0.95" stroke-linecap="round"/><path d="M527,548.5 C535,550 542,554 548,559 M531,548.3 C538,549.5 544,552 548.3,555 M540,548.3 C543,549 546,550 548.3,551.5" fill="none" stroke="#222" stroke-width="0.95" stroke-linecap="round"/><path d="M536,566 C540,562 544,561 548,561" fill="none" stroke="#222" stroke-width="0.95" stroke-linecap="round"/><path d="M503.5,532.3 L547.8,557.8 M505.4,536.4 L520,544.6" fill="none" stroke="#e8204f" stroke-width="0.95"/><path d="M503.5,532.3 C501.5,540 499.5,548 499,555 M505.4,536.4 C504,541 502.5,545 501.5,549 M501,541 C503,543 505,544 506.5,544.5 M499,544 C501,546 503,547 505,547.5" fill="none" stroke="#e8204f" stroke-width="0.8"/><path d="M497,557.9 L547,557.9" stroke="#e8204f" stroke-width="0.8" stroke-dasharray="1.6 0.8" opacity="0.7"/><text x="495.5" y="545" font-family="Liberation Serif" font-size="7" fill="#e8204f">α</text></g><g transform="translate(430,595) scale(0.08748906386701663)"><line x1="385" y1="95" x2="385" y2="575" stroke="#888" stroke-width="8"/><line x1="150" y1="330" x2="615" y2="330" stroke="#888" stroke-width="8"/><circle cx="385" cy="330" r="188" fill="#f2f2f2" stroke="#222" stroke-width="20"/><circle cx="385" cy="330" r="165" fill="none" stroke="#222" stroke-width="8"/><path d="M388,145 L385,515 M200,318 L570,340" fill="none" stroke="#222" stroke-width="12"/><path d="M225,240 C250,245 275,250 295,252 L305,330 M295,252 L385,232 M398,150 C420,190 445,230 470,240 L478,300 L568,322 M470,240 L455,280 M555,405 C520,420 490,425 468,412 L425,438 L398,345 M468,412 L470,470 M372,508 C350,470 325,440 302,425 L250,402 L212,372 M302,425 L318,360 L212,345" fill="none" stroke="#222" stroke-width="9" stroke-linejoin="round"/><path d="M410,330 L440,330 L445,400 L420,420 L400,420 Z" fill="#e6e6e6" stroke="#222" stroke-width="8"/><path d="M395,108 A222,222 0 0 1 395,552" fill="none" stroke="#e8204f" stroke-width="12"/><text x="555" y="160" font-family="Liberation Serif" font-size="80" fill="#e8204f">α</text><text x="568" y="500" font-family="Liberation Serif" font-size="80" fill="#e8204f">β</text><text x="305" y="648" font-family="Liberation Serif" font-size="105" fill="#e8204f" textLength="190" lengthAdjust="spacingAndGlyphs">α≠β</text></g></svg>
<div class="a ft" style="left:638.4px;top:468.6px;transform:scaleX(1.0);letter-spacing:0.55px">FORM</div><div class="a ft" style="left:638.4px;top:477.0px;transform:scaleX(1.0);letter-spacing:0.95px">HA DIN</div><div class="a ft" style="left:638.4px;top:485.4px;transform:scaleX(1.0);letter-spacing:1.1px">6535</div><div class="a ft" style="left:699.75px;top:470.1px;transform:scaleX(1.0);letter-spacing:0.55px">FORM</div><div class="a ft" style="left:699.75px;top:478.4px;transform:scaleX(1.0);letter-spacing:0.95px">HB DIN</div><div class="a ft" style="left:699.75px;top:486.4px;transform:scaleX(1.0);letter-spacing:1.1px">6535</div>
</body></html>
